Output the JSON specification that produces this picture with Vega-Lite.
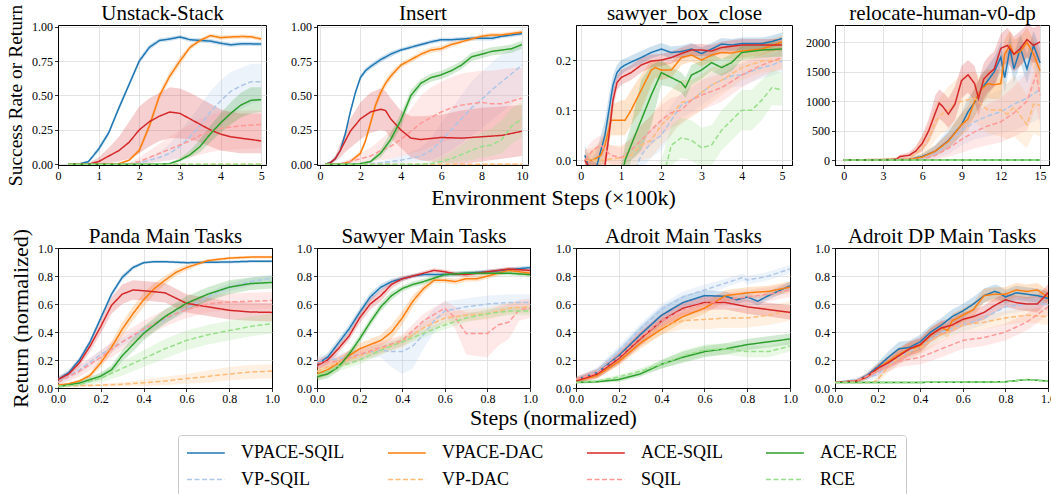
{
"$schema": "https://vega.github.io/schema/vega-lite/v6.json",
"autosize": {"type": "pad"},
"padding": {"left": 4, "top": 1, "right": 0, "bottom": 70},
"background": "white",
"bounds": "flush",
"align": "all",
"columns": 4,
"spacing": {"row": 83, "column": 43},
"datasets": {
"unstack": [
{"s":"VPACE-SQIL","x":0.25,"y":0,"l":0,"h":0},{"s":"VPACE-SQIL","x":0.5,"y":0,"l":0,"h":0.005},{"s":"VPACE-SQIL","x":0.75,"y":0.02,"l":0.01,"h":0.03},{"s":"VPACE-SQIL","x":1.0,"y":0.11,"l":0.09,"h":0.13},{"s":"VPACE-SQIL","x":1.25,"y":0.23,"l":0.21,"h":0.25},{"s":"VPACE-SQIL","x":1.5,"y":0.41,"l":0.39,"h":0.43},{"s":"VPACE-SQIL","x":1.75,"y":0.58,"l":0.56,"h":0.6},{"s":"VPACE-SQIL","x":2.0,"y":0.75,"l":0.73,"h":0.77},{"s":"VPACE-SQIL","x":2.25,"y":0.85,"l":0.83,"h":0.87},{"s":"VPACE-SQIL","x":2.5,"y":0.9,"l":0.885,"h":0.915},{"s":"VPACE-SQIL","x":2.75,"y":0.91,"l":0.895,"h":0.925},{"s":"VPACE-SQIL","x":3.0,"y":0.925,"l":0.91,"h":0.94},{"s":"VPACE-SQIL","x":3.25,"y":0.905,"l":0.89,"h":0.92},{"s":"VPACE-SQIL","x":3.5,"y":0.9,"l":0.885,"h":0.915},{"s":"VPACE-SQIL","x":3.75,"y":0.895,"l":0.88,"h":0.91},{"s":"VPACE-SQIL","x":4.0,"y":0.88,"l":0.865,"h":0.895},{"s":"VPACE-SQIL","x":4.25,"y":0.868,"l":0.853,"h":0.883},{"s":"VPACE-SQIL","x":4.5,"y":0.875,"l":0.86,"h":0.89},{"s":"VPACE-SQIL","x":4.75,"y":0.875,"l":0.86,"h":0.89},{"s":"VPACE-SQIL","x":5.0,"y":0.873,"l":0.858,"h":0.888},
{"s":"VP-SQIL","x":0.25,"y":0,"l":0,"h":0},{"s":"VP-SQIL","x":1.75,"y":0,"l":0,"h":0.005},{"s":"VP-SQIL","x":2.0,"y":0.01,"l":0,"h":0.02},{"s":"VP-SQIL","x":2.25,"y":0.03,"l":0.01,"h":0.05},{"s":"VP-SQIL","x":2.5,"y":0.05,"l":0.02,"h":0.09},{"s":"VP-SQIL","x":2.75,"y":0.08,"l":0.03,"h":0.15},{"s":"VP-SQIL","x":3.0,"y":0.13,"l":0.05,"h":0.24},{"s":"VP-SQIL","x":3.25,"y":0.2,"l":0.09,"h":0.33},{"s":"VP-SQIL","x":3.5,"y":0.28,"l":0.14,"h":0.43},{"s":"VP-SQIL","x":3.75,"y":0.38,"l":0.21,"h":0.53},{"s":"VP-SQIL","x":4.0,"y":0.46,"l":0.28,"h":0.61},{"s":"VP-SQIL","x":4.25,"y":0.53,"l":0.35,"h":0.67},{"s":"VP-SQIL","x":4.5,"y":0.57,"l":0.4,"h":0.7},{"s":"VP-SQIL","x":4.75,"y":0.6,"l":0.44,"h":0.73},{"s":"VP-SQIL","x":5.0,"y":0.6,"l":0.46,"h":0.73},
{"s":"VPACE-DAC","x":0.25,"y":0,"l":0,"h":0},{"s":"VPACE-DAC","x":1.5,"y":0.005,"l":0,"h":0.01},{"s":"VPACE-DAC","x":1.75,"y":0.03,"l":0.02,"h":0.04},{"s":"VPACE-DAC","x":2.0,"y":0.1,"l":0.08,"h":0.12},{"s":"VPACE-DAC","x":2.25,"y":0.28,"l":0.25,"h":0.31},{"s":"VPACE-DAC","x":2.5,"y":0.5,"l":0.47,"h":0.53},{"s":"VPACE-DAC","x":2.75,"y":0.64,"l":0.61,"h":0.67},{"s":"VPACE-DAC","x":3.0,"y":0.75,"l":0.72,"h":0.78},{"s":"VPACE-DAC","x":3.25,"y":0.85,"l":0.83,"h":0.87},{"s":"VPACE-DAC","x":3.5,"y":0.9,"l":0.885,"h":0.915},{"s":"VPACE-DAC","x":3.75,"y":0.935,"l":0.92,"h":0.95},{"s":"VPACE-DAC","x":4.0,"y":0.92,"l":0.905,"h":0.935},{"s":"VPACE-DAC","x":4.25,"y":0.925,"l":0.91,"h":0.94},{"s":"VPACE-DAC","x":4.5,"y":0.928,"l":0.913,"h":0.943},{"s":"VPACE-DAC","x":4.75,"y":0.927,"l":0.912,"h":0.942},{"s":"VPACE-DAC","x":5.0,"y":0.91,"l":0.895,"h":0.925},
{"s":"VP-DAC","x":0.25,"y":0,"l":0,"h":0.003},{"s":"VP-DAC","x":2.5,"y":0,"l":0,"h":0.003},{"s":"VP-DAC","x":5.0,"y":0,"l":0,"h":0.003},
{"s":"ACE-SQIL","x":0.25,"y":0,"l":0,"h":0},{"s":"ACE-SQIL","x":0.75,"y":0,"l":0,"h":0.01},{"s":"ACE-SQIL","x":1.0,"y":0.02,"l":0,"h":0.05},{"s":"ACE-SQIL","x":1.25,"y":0.06,"l":0.01,"h":0.12},{"s":"ACE-SQIL","x":1.5,"y":0.1,"l":0.02,"h":0.2},{"s":"ACE-SQIL","x":1.75,"y":0.16,"l":0.04,"h":0.31},{"s":"ACE-SQIL","x":2.0,"y":0.25,"l":0.08,"h":0.42},{"s":"ACE-SQIL","x":2.25,"y":0.31,"l":0.13,"h":0.48},{"s":"ACE-SQIL","x":2.5,"y":0.35,"l":0.17,"h":0.52},{"s":"ACE-SQIL","x":2.75,"y":0.38,"l":0.19,"h":0.56},{"s":"ACE-SQIL","x":3.0,"y":0.37,"l":0.19,"h":0.55},{"s":"ACE-SQIL","x":3.25,"y":0.33,"l":0.18,"h":0.52},{"s":"ACE-SQIL","x":3.5,"y":0.29,"l":0.16,"h":0.48},{"s":"ACE-SQIL","x":3.75,"y":0.25,"l":0.13,"h":0.44},{"s":"ACE-SQIL","x":4.0,"y":0.22,"l":0.1,"h":0.4},{"s":"ACE-SQIL","x":4.25,"y":0.2,"l":0.09,"h":0.38},{"s":"ACE-SQIL","x":4.5,"y":0.19,"l":0.08,"h":0.37},{"s":"ACE-SQIL","x":4.75,"y":0.18,"l":0.08,"h":0.37},{"s":"ACE-SQIL","x":5.0,"y":0.17,"l":0.08,"h":0.37},
{"s":"SQIL","x":0.25,"y":0,"l":0,"h":0},{"s":"SQIL","x":1.75,"y":0,"l":0,"h":0.01},{"s":"SQIL","x":2.0,"y":0.02,"l":0,"h":0.05},{"s":"SQIL","x":2.25,"y":0.05,"l":0.01,"h":0.1},{"s":"SQIL","x":2.5,"y":0.08,"l":0.02,"h":0.15},{"s":"SQIL","x":2.75,"y":0.11,"l":0.03,"h":0.2},{"s":"SQIL","x":3.0,"y":0.14,"l":0.04,"h":0.25},{"s":"SQIL","x":3.25,"y":0.17,"l":0.05,"h":0.29},{"s":"SQIL","x":3.5,"y":0.21,"l":0.07,"h":0.33},{"s":"SQIL","x":3.75,"y":0.24,"l":0.09,"h":0.36},{"s":"SQIL","x":4.0,"y":0.26,"l":0.1,"h":0.38},{"s":"SQIL","x":4.5,"y":0.28,"l":0.11,"h":0.39},{"s":"SQIL","x":5.0,"y":0.29,"l":0.12,"h":0.39},
{"s":"ACE-RCE","x":0.25,"y":0,"l":0,"h":0},{"s":"ACE-RCE","x":2.5,"y":0,"l":0,"h":0.005},{"s":"ACE-RCE","x":2.75,"y":0.005,"l":0,"h":0.01},{"s":"ACE-RCE","x":3.0,"y":0.03,"l":0.02,"h":0.045},{"s":"ACE-RCE","x":3.25,"y":0.07,"l":0.05,"h":0.1},{"s":"ACE-RCE","x":3.5,"y":0.13,"l":0.09,"h":0.18},{"s":"ACE-RCE","x":3.75,"y":0.22,"l":0.16,"h":0.28},{"s":"ACE-RCE","x":4.0,"y":0.3,"l":0.23,"h":0.37},{"s":"ACE-RCE","x":4.25,"y":0.37,"l":0.29,"h":0.45},{"s":"ACE-RCE","x":4.5,"y":0.43,"l":0.34,"h":0.52},{"s":"ACE-RCE","x":4.75,"y":0.465,"l":0.37,"h":0.56},{"s":"ACE-RCE","x":5.0,"y":0.47,"l":0.38,"h":0.56},
{"s":"RCE","x":0.25,"y":0,"l":0,"h":0.003},{"s":"RCE","x":2.5,"y":0,"l":0,"h":0.003},{"s":"RCE","x":5.0,"y":0,"l":0,"h":0.003}
],
"insert": [
{"s":"VPACE-SQIL","x":0.25,"y":0,"l":0,"h":0.005},{"s":"VPACE-SQIL","x":0.5,"y":0.01,"l":0,"h":0.02},{"s":"VPACE-SQIL","x":0.75,"y":0.04,"l":0.03,"h":0.05},{"s":"VPACE-SQIL","x":1.0,"y":0.1,"l":0.09,"h":0.11},{"s":"VPACE-SQIL","x":1.25,"y":0.22,"l":0.2,"h":0.24},{"s":"VPACE-SQIL","x":1.5,"y":0.38,"l":0.36,"h":0.4},{"s":"VPACE-SQIL","x":1.75,"y":0.52,"l":0.5,"h":0.54},{"s":"VPACE-SQIL","x":2.0,"y":0.63,"l":0.61,"h":0.65},{"s":"VPACE-SQIL","x":2.25,"y":0.68,"l":0.66,"h":0.7},{"s":"VPACE-SQIL","x":2.5,"y":0.71,"l":0.69,"h":0.73},{"s":"VPACE-SQIL","x":3.0,"y":0.76,"l":0.74,"h":0.78},{"s":"VPACE-SQIL","x":3.5,"y":0.8,"l":0.78,"h":0.82},{"s":"VPACE-SQIL","x":4.0,"y":0.83,"l":0.815,"h":0.845},{"s":"VPACE-SQIL","x":4.5,"y":0.85,"l":0.835,"h":0.865},{"s":"VPACE-SQIL","x":5.0,"y":0.87,"l":0.855,"h":0.885},{"s":"VPACE-SQIL","x":5.5,"y":0.89,"l":0.875,"h":0.905},{"s":"VPACE-SQIL","x":6.0,"y":0.905,"l":0.89,"h":0.92},{"s":"VPACE-SQIL","x":6.5,"y":0.905,"l":0.89,"h":0.92},{"s":"VPACE-SQIL","x":7.0,"y":0.91,"l":0.895,"h":0.925},{"s":"VPACE-SQIL","x":7.5,"y":0.915,"l":0.9,"h":0.93},{"s":"VPACE-SQIL","x":8.0,"y":0.915,"l":0.9,"h":0.93},{"s":"VPACE-SQIL","x":8.5,"y":0.915,"l":0.9,"h":0.93},{"s":"VPACE-SQIL","x":9.0,"y":0.93,"l":0.915,"h":0.945},{"s":"VPACE-SQIL","x":9.5,"y":0.94,"l":0.925,"h":0.955},{"s":"VPACE-SQIL","x":10.0,"y":0.95,"l":0.935,"h":0.965},
{"s":"VP-SQIL","x":0.25,"y":0,"l":0,"h":0},{"s":"VP-SQIL","x":2.0,"y":0,"l":0,"h":0.005},{"s":"VP-SQIL","x":3.0,"y":0.01,"l":0,"h":0.02},{"s":"VP-SQIL","x":4.0,"y":0.03,"l":0.01,"h":0.06},{"s":"VP-SQIL","x":5.0,"y":0.06,"l":0.02,"h":0.12},{"s":"VP-SQIL","x":5.5,"y":0.1,"l":0.03,"h":0.19},{"s":"VP-SQIL","x":6.0,"y":0.17,"l":0.06,"h":0.3},{"s":"VP-SQIL","x":6.5,"y":0.25,"l":0.1,"h":0.4},{"s":"VP-SQIL","x":7.0,"y":0.33,"l":0.15,"h":0.5},{"s":"VP-SQIL","x":7.5,"y":0.41,"l":0.21,"h":0.6},{"s":"VP-SQIL","x":8.0,"y":0.47,"l":0.26,"h":0.67},{"s":"VP-SQIL","x":8.5,"y":0.54,"l":0.32,"h":0.74},{"s":"VP-SQIL","x":9.0,"y":0.6,"l":0.38,"h":0.8},{"s":"VP-SQIL","x":9.5,"y":0.66,"l":0.44,"h":0.84},{"s":"VP-SQIL","x":10.0,"y":0.72,"l":0.5,"h":0.87},
{"s":"VPACE-DAC","x":0.25,"y":0,"l":0,"h":0},{"s":"VPACE-DAC","x":1.0,"y":0,"l":0,"h":0.005},{"s":"VPACE-DAC","x":1.5,"y":0.02,"l":0.01,"h":0.03},{"s":"VPACE-DAC","x":2.0,"y":0.08,"l":0.06,"h":0.1},{"s":"VPACE-DAC","x":2.25,"y":0.17,"l":0.15,"h":0.19},{"s":"VPACE-DAC","x":2.5,"y":0.3,"l":0.27,"h":0.33},{"s":"VPACE-DAC","x":2.75,"y":0.43,"l":0.4,"h":0.46},{"s":"VPACE-DAC","x":3.0,"y":0.52,"l":0.49,"h":0.55},{"s":"VPACE-DAC","x":3.25,"y":0.59,"l":0.56,"h":0.62},{"s":"VPACE-DAC","x":3.5,"y":0.64,"l":0.61,"h":0.67},{"s":"VPACE-DAC","x":4.0,"y":0.72,"l":0.7,"h":0.74},{"s":"VPACE-DAC","x":4.5,"y":0.76,"l":0.74,"h":0.78},{"s":"VPACE-DAC","x":5.0,"y":0.8,"l":0.78,"h":0.82},{"s":"VPACE-DAC","x":5.5,"y":0.83,"l":0.81,"h":0.85},{"s":"VPACE-DAC","x":6.0,"y":0.84,"l":0.82,"h":0.86},{"s":"VPACE-DAC","x":6.5,"y":0.87,"l":0.85,"h":0.89},{"s":"VPACE-DAC","x":7.0,"y":0.89,"l":0.875,"h":0.905},{"s":"VPACE-DAC","x":7.5,"y":0.91,"l":0.895,"h":0.925},{"s":"VPACE-DAC","x":8.0,"y":0.93,"l":0.915,"h":0.945},{"s":"VPACE-DAC","x":8.5,"y":0.94,"l":0.925,"h":0.955},{"s":"VPACE-DAC","x":9.0,"y":0.94,"l":0.925,"h":0.955},{"s":"VPACE-DAC","x":9.5,"y":0.95,"l":0.935,"h":0.965},{"s":"VPACE-DAC","x":10.0,"y":0.96,"l":0.945,"h":0.975},
{"s":"VP-DAC","x":0.25,"y":0,"l":0,"h":0.004},{"s":"VP-DAC","x":5.0,"y":0,"l":0,"h":0.004},{"s":"VP-DAC","x":10.0,"y":0,"l":0,"h":0.004},
{"s":"ACE-SQIL","x":0.25,"y":0,"l":0,"h":0.005},{"s":"ACE-SQIL","x":0.5,"y":0.01,"l":0,"h":0.02},{"s":"ACE-SQIL","x":0.75,"y":0.04,"l":0.02,"h":0.06},{"s":"ACE-SQIL","x":1.0,"y":0.1,"l":0.05,"h":0.15},{"s":"ACE-SQIL","x":1.25,"y":0.17,"l":0.09,"h":0.24},{"s":"ACE-SQIL","x":1.5,"y":0.24,"l":0.12,"h":0.33},{"s":"ACE-SQIL","x":2.0,"y":0.33,"l":0.18,"h":0.45},{"s":"ACE-SQIL","x":2.5,"y":0.38,"l":0.23,"h":0.52},{"s":"ACE-SQIL","x":3.0,"y":0.4,"l":0.25,"h":0.55},{"s":"ACE-SQIL","x":3.25,"y":0.39,"l":0.24,"h":0.53},{"s":"ACE-SQIL","x":3.5,"y":0.33,"l":0.19,"h":0.48},{"s":"ACE-SQIL","x":4.0,"y":0.25,"l":0.12,"h":0.39},{"s":"ACE-SQIL","x":4.5,"y":0.19,"l":0.05,"h":0.35},{"s":"ACE-SQIL","x":5.0,"y":0.18,"l":0.03,"h":0.35},{"s":"ACE-SQIL","x":6.0,"y":0.195,"l":0.01,"h":0.36},{"s":"ACE-SQIL","x":7.0,"y":0.19,"l":0,"h":0.39},{"s":"ACE-SQIL","x":8.0,"y":0.2,"l":0.02,"h":0.41},{"s":"ACE-SQIL","x":9.0,"y":0.21,"l":0.04,"h":0.42},{"s":"ACE-SQIL","x":10.0,"y":0.24,"l":0.06,"h":0.43},
{"s":"SQIL","x":0.25,"y":0,"l":0,"h":0},{"s":"SQIL","x":1.0,"y":0.005,"l":0,"h":0.01},{"s":"SQIL","x":1.5,"y":0.02,"l":0,"h":0.04},{"s":"SQIL","x":2.0,"y":0.04,"l":0.01,"h":0.08},{"s":"SQIL","x":2.5,"y":0.06,"l":0.02,"h":0.12},{"s":"SQIL","x":3.0,"y":0.1,"l":0.03,"h":0.18},{"s":"SQIL","x":3.5,"y":0.13,"l":0.04,"h":0.24},{"s":"SQIL","x":4.0,"y":0.18,"l":0.06,"h":0.31},{"s":"SQIL","x":4.5,"y":0.24,"l":0.08,"h":0.4},{"s":"SQIL","x":5.0,"y":0.3,"l":0.1,"h":0.5},{"s":"SQIL","x":5.5,"y":0.34,"l":0.13,"h":0.56},{"s":"SQIL","x":6.0,"y":0.38,"l":0.16,"h":0.6},{"s":"SQIL","x":6.5,"y":0.41,"l":0.18,"h":0.63},{"s":"SQIL","x":7.0,"y":0.43,"l":0.2,"h":0.66},{"s":"SQIL","x":7.5,"y":0.44,"l":0.21,"h":0.67},{"s":"SQIL","x":8.0,"y":0.45,"l":0.22,"h":0.68},{"s":"SQIL","x":8.5,"y":0.44,"l":0.21,"h":0.68},{"s":"SQIL","x":9.0,"y":0.44,"l":0.22,"h":0.69},{"s":"SQIL","x":9.5,"y":0.46,"l":0.24,"h":0.7},{"s":"SQIL","x":10.0,"y":0.48,"l":0.26,"h":0.7},
{"s":"ACE-RCE","x":0.25,"y":0,"l":0,"h":0},{"s":"ACE-RCE","x":1.5,"y":0,"l":0,"h":0.005},{"s":"ACE-RCE","x":2.0,"y":0.005,"l":0,"h":0.01},{"s":"ACE-RCE","x":2.5,"y":0.02,"l":0.01,"h":0.03},{"s":"ACE-RCE","x":3.0,"y":0.08,"l":0.05,"h":0.11},{"s":"ACE-RCE","x":3.5,"y":0.18,"l":0.14,"h":0.23},{"s":"ACE-RCE","x":4.0,"y":0.32,"l":0.27,"h":0.37},{"s":"ACE-RCE","x":4.5,"y":0.5,"l":0.46,"h":0.54},{"s":"ACE-RCE","x":5.0,"y":0.59,"l":0.56,"h":0.62},{"s":"ACE-RCE","x":5.5,"y":0.63,"l":0.6,"h":0.66},{"s":"ACE-RCE","x":6.0,"y":0.65,"l":0.62,"h":0.68},{"s":"ACE-RCE","x":6.5,"y":0.68,"l":0.65,"h":0.71},{"s":"ACE-RCE","x":7.0,"y":0.72,"l":0.69,"h":0.75},{"s":"ACE-RCE","x":7.5,"y":0.78,"l":0.75,"h":0.81},{"s":"ACE-RCE","x":8.0,"y":0.8,"l":0.77,"h":0.83},{"s":"ACE-RCE","x":8.5,"y":0.82,"l":0.79,"h":0.85},{"s":"ACE-RCE","x":9.0,"y":0.83,"l":0.8,"h":0.86},{"s":"ACE-RCE","x":9.5,"y":0.84,"l":0.81,"h":0.87},{"s":"ACE-RCE","x":10.0,"y":0.87,"l":0.84,"h":0.9},
{"s":"RCE","x":0.25,"y":0,"l":0,"h":0},{"s":"RCE","x":5.0,"y":0,"l":0,"h":0.005},{"s":"RCE","x":5.5,"y":0.005,"l":0,"h":0.02},{"s":"RCE","x":6.0,"y":0.02,"l":0,"h":0.05},{"s":"RCE","x":6.5,"y":0.04,"l":0.01,"h":0.09},{"s":"RCE","x":7.0,"y":0.07,"l":0.02,"h":0.14},{"s":"RCE","x":7.5,"y":0.1,"l":0.03,"h":0.19},{"s":"RCE","x":8.0,"y":0.13,"l":0.05,"h":0.23},{"s":"RCE","x":8.5,"y":0.14,"l":0.06,"h":0.26},{"s":"RCE","x":9.0,"y":0.18,"l":0.08,"h":0.32},{"s":"RCE","x":9.5,"y":0.28,"l":0.15,"h":0.41},{"s":"RCE","x":10.0,"y":0.33,"l":0.2,"h":0.45}
],
"box": [
{"s":"VPACE-SQIL","x":0.1,"y":0.01,"l":-0.01,"h":0.03},{"s":"VPACE-SQIL","x":0.25,"y":-0.03,"l":-0.05,"h":0.0},{"s":"VPACE-SQIL","x":0.4,"y":-0.01,"l":-0.04,"h":0.02},{"s":"VPACE-SQIL","x":0.5,"y":0.02,"l":-0.01,"h":0.05},{"s":"VPACE-SQIL","x":0.6,"y":0.05,"l":0.02,"h":0.08},{"s":"VPACE-SQIL","x":0.7,"y":0.1,"l":0.07,"h":0.13},{"s":"VPACE-SQIL","x":0.8,"y":0.15,"l":0.13,"h":0.17},{"s":"VPACE-SQIL","x":0.9,"y":0.175,"l":0.16,"h":0.19},{"s":"VPACE-SQIL","x":1.0,"y":0.185,"l":0.17,"h":0.2},{"s":"VPACE-SQIL","x":1.1,"y":0.19,"l":0.177,"h":0.203},{"s":"VPACE-SQIL","x":1.25,"y":0.196,"l":0.183,"h":0.209},{"s":"VPACE-SQIL","x":1.5,"y":0.205,"l":0.192,"h":0.218},{"s":"VPACE-SQIL","x":1.75,"y":0.215,"l":0.203,"h":0.227},{"s":"VPACE-SQIL","x":2.0,"y":0.222,"l":0.21,"h":0.234},{"s":"VPACE-SQIL","x":2.25,"y":0.215,"l":0.203,"h":0.227},{"s":"VPACE-SQIL","x":2.5,"y":0.217,"l":0.205,"h":0.229},{"s":"VPACE-SQIL","x":2.75,"y":0.222,"l":0.21,"h":0.234},{"s":"VPACE-SQIL","x":3.0,"y":0.213,"l":0.201,"h":0.225},{"s":"VPACE-SQIL","x":3.25,"y":0.222,"l":0.21,"h":0.234},{"s":"VPACE-SQIL","x":3.5,"y":0.232,"l":0.22,"h":0.244},{"s":"VPACE-SQIL","x":3.75,"y":0.23,"l":0.218,"h":0.242},{"s":"VPACE-SQIL","x":4.0,"y":0.233,"l":0.221,"h":0.245},{"s":"VPACE-SQIL","x":4.5,"y":0.233,"l":0.221,"h":0.245},{"s":"VPACE-SQIL","x":4.75,"y":0.237,"l":0.225,"h":0.249},{"s":"VPACE-SQIL","x":5.0,"y":0.243,"l":0.231,"h":0.255},
{"s":"VP-SQIL","x":0.1,"y":-0.1,"l":-0.13,"h":-0.07},{"s":"VP-SQIL","x":1.0,"y":-0.06,"l":-0.09,"h":-0.03},{"s":"VP-SQIL","x":1.4,"y":-0.01,"l":-0.04,"h":0.02},{"s":"VP-SQIL","x":1.5,"y":0.01,"l":-0.02,"h":0.04},{"s":"VP-SQIL","x":1.75,"y":0.035,"l":0.005,"h":0.065},{"s":"VP-SQIL","x":2.0,"y":0.05,"l":0.02,"h":0.08},{"s":"VP-SQIL","x":2.25,"y":0.08,"l":0.05,"h":0.11},{"s":"VP-SQIL","x":2.5,"y":0.11,"l":0.085,"h":0.135},{"s":"VP-SQIL","x":2.75,"y":0.12,"l":0.095,"h":0.145},{"s":"VP-SQIL","x":3.0,"y":0.135,"l":0.11,"h":0.16},{"s":"VP-SQIL","x":3.25,"y":0.15,"l":0.125,"h":0.175},{"s":"VP-SQIL","x":3.5,"y":0.16,"l":0.137,"h":0.183},{"s":"VP-SQIL","x":3.75,"y":0.168,"l":0.145,"h":0.191},{"s":"VP-SQIL","x":4.0,"y":0.17,"l":0.148,"h":0.192},{"s":"VP-SQIL","x":4.25,"y":0.178,"l":0.156,"h":0.2},{"s":"VP-SQIL","x":4.5,"y":0.185,"l":0.163,"h":0.207},{"s":"VP-SQIL","x":4.75,"y":0.19,"l":0.168,"h":0.212},{"s":"VP-SQIL","x":5.0,"y":0.198,"l":0.176,"h":0.22},
{"s":"VPACE-DAC","x":0.1,"y":0,"l":-0.01,"h":0.01},{"s":"VPACE-DAC","x":0.3,"y":0,"l":-0.01,"h":0.02},{"s":"VPACE-DAC","x":0.5,"y":0.01,"l":-0.01,"h":0.04},{"s":"VPACE-DAC","x":0.6,"y":0.03,"l":0,"h":0.06},{"s":"VPACE-DAC","x":0.75,"y":0.08,"l":0.05,"h":0.11},{"s":"VPACE-DAC","x":1.0,"y":0.08,"l":0.05,"h":0.12},{"s":"VPACE-DAC","x":1.1,"y":0.08,"l":0.05,"h":0.12},{"s":"VPACE-DAC","x":1.25,"y":0.1,"l":0.07,"h":0.14},{"s":"VPACE-DAC","x":1.5,"y":0.14,"l":0.1,"h":0.17},{"s":"VPACE-DAC","x":1.75,"y":0.18,"l":0.15,"h":0.2},{"s":"VPACE-DAC","x":1.85,"y":0.185,"l":0.165,"h":0.2},{"s":"VPACE-DAC","x":2.0,"y":0.18,"l":0.16,"h":0.195},{"s":"VPACE-DAC","x":2.25,"y":0.18,"l":0.165,"h":0.195},{"s":"VPACE-DAC","x":2.5,"y":0.205,"l":0.19,"h":0.22},{"s":"VPACE-DAC","x":2.75,"y":0.21,"l":0.197,"h":0.223},{"s":"VPACE-DAC","x":3.0,"y":0.2,"l":0.187,"h":0.213},{"s":"VPACE-DAC","x":3.25,"y":0.21,"l":0.197,"h":0.223},{"s":"VPACE-DAC","x":3.5,"y":0.215,"l":0.202,"h":0.228},{"s":"VPACE-DAC","x":3.75,"y":0.214,"l":0.201,"h":0.227},{"s":"VPACE-DAC","x":4.0,"y":0.218,"l":0.205,"h":0.231},{"s":"VPACE-DAC","x":4.5,"y":0.222,"l":0.209,"h":0.235},{"s":"VPACE-DAC","x":5.0,"y":0.236,"l":0.223,"h":0.249},
{"s":"VP-DAC","x":0.1,"y":0,"l":-0.02,"h":0.02},{"s":"VP-DAC","x":0.5,"y":0,"l":-0.02,"h":0.03},{"s":"VP-DAC","x":1.0,"y":0.005,"l":-0.02,"h":0.03},{"s":"VP-DAC","x":1.25,"y":0.01,"l":-0.015,"h":0.04},{"s":"VP-DAC","x":1.5,"y":0.03,"l":0,"h":0.07},{"s":"VP-DAC","x":1.75,"y":0.04,"l":0.005,"h":0.09},{"s":"VP-DAC","x":2.0,"y":0.07,"l":0.03,"h":0.12},{"s":"VP-DAC","x":2.25,"y":0.09,"l":0.05,"h":0.14},{"s":"VP-DAC","x":2.5,"y":0.115,"l":0.075,"h":0.16},{"s":"VP-DAC","x":2.75,"y":0.12,"l":0.085,"h":0.16},{"s":"VP-DAC","x":3.0,"y":0.135,"l":0.1,"h":0.17},{"s":"VP-DAC","x":3.25,"y":0.15,"l":0.115,"h":0.185},{"s":"VP-DAC","x":3.5,"y":0.16,"l":0.13,"h":0.19},{"s":"VP-DAC","x":4.0,"y":0.185,"l":0.16,"h":0.21},{"s":"VP-DAC","x":4.5,"y":0.198,"l":0.175,"h":0.22},{"s":"VP-DAC","x":5.0,"y":0.2,"l":0.18,"h":0.22},
{"s":"ACE-SQIL","x":0.1,"y":0,"l":-0.01,"h":0.01},{"s":"ACE-SQIL","x":0.25,"y":-0.02,"l":-0.04,"h":0},{"s":"ACE-SQIL","x":0.5,"y":-0.03,"l":-0.05,"h":-0.01},{"s":"ACE-SQIL","x":0.6,"y":-0.01,"l":-0.03,"h":0.01},{"s":"ACE-SQIL","x":0.7,"y":0.05,"l":0.03,"h":0.07},{"s":"ACE-SQIL","x":0.8,"y":0.12,"l":0.1,"h":0.14},{"s":"ACE-SQIL","x":0.9,"y":0.155,"l":0.14,"h":0.17},{"s":"ACE-SQIL","x":1.0,"y":0.165,"l":0.15,"h":0.18},{"s":"ACE-SQIL","x":1.25,"y":0.175,"l":0.16,"h":0.19},{"s":"ACE-SQIL","x":1.5,"y":0.19,"l":0.175,"h":0.205},{"s":"ACE-SQIL","x":1.75,"y":0.198,"l":0.185,"h":0.211},{"s":"ACE-SQIL","x":2.0,"y":0.2,"l":0.188,"h":0.212},{"s":"ACE-SQIL","x":2.25,"y":0.205,"l":0.193,"h":0.217},{"s":"ACE-SQIL","x":2.5,"y":0.213,"l":0.201,"h":0.225},{"s":"ACE-SQIL","x":2.75,"y":0.22,"l":0.208,"h":0.232},{"s":"ACE-SQIL","x":3.0,"y":0.22,"l":0.208,"h":0.232},{"s":"ACE-SQIL","x":3.25,"y":0.218,"l":0.206,"h":0.23},{"s":"ACE-SQIL","x":3.5,"y":0.225,"l":0.213,"h":0.237},{"s":"ACE-SQIL","x":4.0,"y":0.23,"l":0.218,"h":0.242},{"s":"ACE-SQIL","x":4.5,"y":0.23,"l":0.218,"h":0.242},{"s":"ACE-SQIL","x":5.0,"y":0.23,"l":0.218,"h":0.242},
{"s":"SQIL","x":0.1,"y":0,"l":-0.02,"h":0.02},{"s":"SQIL","x":0.3,"y":0.02,"l":0,"h":0.04},{"s":"SQIL","x":0.5,"y":0.03,"l":0.01,"h":0.05},{"s":"SQIL","x":0.75,"y":0.01,"l":-0.01,"h":0.03},{"s":"SQIL","x":1.0,"y":0.005,"l":-0.015,"h":0.025},{"s":"SQIL","x":1.25,"y":0.02,"l":0,"h":0.045},{"s":"SQIL","x":1.5,"y":0.04,"l":0.015,"h":0.07},{"s":"SQIL","x":1.75,"y":0.06,"l":0.03,"h":0.09},{"s":"SQIL","x":2.0,"y":0.08,"l":0.05,"h":0.11},{"s":"SQIL","x":2.25,"y":0.095,"l":0.065,"h":0.125},{"s":"SQIL","x":2.5,"y":0.1,"l":0.072,"h":0.13},{"s":"SQIL","x":2.75,"y":0.12,"l":0.09,"h":0.15},{"s":"SQIL","x":3.0,"y":0.13,"l":0.1,"h":0.16},{"s":"SQIL","x":3.5,"y":0.145,"l":0.117,"h":0.173},{"s":"SQIL","x":4.0,"y":0.17,"l":0.145,"h":0.195},{"s":"SQIL","x":4.5,"y":0.19,"l":0.167,"h":0.213},{"s":"SQIL","x":5.0,"y":0.205,"l":0.183,"h":0.227},
{"s":"ACE-RCE","x":0.1,"y":-0.1,"l":-0.13,"h":-0.07},{"s":"ACE-RCE","x":0.5,"y":-0.1,"l":-0.13,"h":-0.07},{"s":"ACE-RCE","x":0.9,"y":-0.06,"l":-0.09,"h":-0.03},{"s":"ACE-RCE","x":1.0,"y":-0.04,"l":-0.07,"h":-0.01},{"s":"ACE-RCE","x":1.1,"y":0,"l":-0.03,"h":0.03},{"s":"ACE-RCE","x":1.25,"y":0.03,"l":0,"h":0.07},{"s":"ACE-RCE","x":1.5,"y":0.08,"l":0.02,"h":0.16},{"s":"ACE-RCE","x":1.75,"y":0.13,"l":0.07,"h":0.19},{"s":"ACE-RCE","x":2.0,"y":0.175,"l":0.15,"h":0.2},{"s":"ACE-RCE","x":2.25,"y":0.165,"l":0.145,"h":0.185},{"s":"ACE-RCE","x":2.5,"y":0.155,"l":0.135,"h":0.175},{"s":"ACE-RCE","x":2.6,"y":0.145,"l":0.125,"h":0.165},{"s":"ACE-RCE","x":2.75,"y":0.17,"l":0.15,"h":0.19},{"s":"ACE-RCE","x":3.0,"y":0.18,"l":0.162,"h":0.198},{"s":"ACE-RCE","x":3.25,"y":0.195,"l":0.178,"h":0.212},{"s":"ACE-RCE","x":3.5,"y":0.185,"l":0.168,"h":0.202},{"s":"ACE-RCE","x":3.75,"y":0.195,"l":0.178,"h":0.212},{"s":"ACE-RCE","x":4.0,"y":0.215,"l":0.2,"h":0.23},{"s":"ACE-RCE","x":4.5,"y":0.22,"l":0.205,"h":0.235},{"s":"ACE-RCE","x":5.0,"y":0.222,"l":0.207,"h":0.237},
{"s":"RCE","x":0.1,"y":-0.2,"l":-0.25,"h":-0.15},{"s":"RCE","x":1.5,"y":-0.15,"l":-0.2,"h":-0.1},{"s":"RCE","x":2.0,"y":-0.05,"l":-0.1,"h":0},{"s":"RCE","x":2.25,"y":0.03,"l":-0.01,"h":0.07},{"s":"RCE","x":2.5,"y":0.045,"l":0.005,"h":0.085},{"s":"RCE","x":2.75,"y":0.04,"l":0,"h":0.08},{"s":"RCE","x":3.0,"y":0.025,"l":-0.015,"h":0.065},{"s":"RCE","x":3.25,"y":0.03,"l":-0.01,"h":0.07},{"s":"RCE","x":3.5,"y":0.06,"l":0.02,"h":0.1},{"s":"RCE","x":3.75,"y":0.08,"l":0.04,"h":0.12},{"s":"RCE","x":4.0,"y":0.1,"l":0.06,"h":0.14},{"s":"RCE","x":4.25,"y":0.1,"l":0.06,"h":0.14},{"s":"RCE","x":4.5,"y":0.12,"l":0.08,"h":0.16},{"s":"RCE","x":4.75,"y":0.145,"l":0.11,"h":0.18},{"s":"RCE","x":5.0,"y":0.14,"l":0.11,"h":0.175}
],
"relocate": [
{"s":"VPACE-SQIL","x":0,"y":0,"l":0,"h":0},{"s":"VPACE-SQIL","x":5,"y":10,"l":0,"h":25},{"s":"VPACE-SQIL","x":6,"y":60,"l":20,"h":110},{"s":"VPACE-SQIL","x":7,"y":150,"l":70,"h":250},{"s":"VPACE-SQIL","x":8,"y":330,"l":200,"h":480},{"s":"VPACE-SQIL","x":9,"y":600,"l":420,"h":800},{"s":"VPACE-SQIL","x":9.5,"y":820,"l":600,"h":1050},{"s":"VPACE-SQIL","x":10,"y":980,"l":750,"h":1200},{"s":"VPACE-SQIL","x":10.5,"y":1200,"l":950,"h":1450},{"s":"VPACE-SQIL","x":11,"y":1350,"l":1100,"h":1600},{"s":"VPACE-SQIL","x":11.5,"y":1500,"l":1250,"h":1750},{"s":"VPACE-SQIL","x":12,"y":1750,"l":1500,"h":2000},{"s":"VPACE-SQIL","x":12.3,"y":1400,"l":1150,"h":1650},{"s":"VPACE-SQIL","x":12.7,"y":1900,"l":1650,"h":2150},{"s":"VPACE-SQIL","x":13,"y":1550,"l":1300,"h":1800},{"s":"VPACE-SQIL","x":13.5,"y":1900,"l":1650,"h":2150},{"s":"VPACE-SQIL","x":14,"y":1550,"l":1300,"h":1800},{"s":"VPACE-SQIL","x":14.5,"y":1950,"l":1700,"h":2200},{"s":"VPACE-SQIL","x":15,"y":1650,"l":1400,"h":1900},
{"s":"VP-SQIL","x":0,"y":0,"l":0,"h":0},{"s":"VP-SQIL","x":6,"y":20,"l":0,"h":60},{"s":"VP-SQIL","x":7,"y":100,"l":20,"h":250},{"s":"VP-SQIL","x":8,"y":300,"l":100,"h":550},{"s":"VP-SQIL","x":9,"y":500,"l":250,"h":800},{"s":"VP-SQIL","x":10,"y":650,"l":350,"h":1000},{"s":"VP-SQIL","x":11,"y":750,"l":400,"h":1100},{"s":"VP-SQIL","x":12,"y":820,"l":450,"h":1200},{"s":"VP-SQIL","x":13,"y":950,"l":500,"h":1400},{"s":"VP-SQIL","x":14,"y":1050,"l":600,"h":1500},{"s":"VP-SQIL","x":15,"y":1200,"l":700,"h":1700},
{"s":"VPACE-DAC","x":0,"y":0,"l":0,"h":0},{"s":"VPACE-DAC","x":5,"y":10,"l":0,"h":25},{"s":"VPACE-DAC","x":6,"y":50,"l":15,"h":100},{"s":"VPACE-DAC","x":7,"y":150,"l":70,"h":250},{"s":"VPACE-DAC","x":8,"y":320,"l":200,"h":460},{"s":"VPACE-DAC","x":9,"y":600,"l":420,"h":800},{"s":"VPACE-DAC","x":9.5,"y":700,"l":500,"h":920},{"s":"VPACE-DAC","x":10,"y":1000,"l":750,"h":1250},{"s":"VPACE-DAC","x":10.5,"y":1200,"l":950,"h":1450},{"s":"VPACE-DAC","x":11,"y":1300,"l":1050,"h":1550},{"s":"VPACE-DAC","x":11.5,"y":1280,"l":1030,"h":1530},{"s":"VPACE-DAC","x":12,"y":1300,"l":1050,"h":1550},{"s":"VPACE-DAC","x":12.3,"y":1800,"l":1550,"h":2050},{"s":"VPACE-DAC","x":12.7,"y":1950,"l":1700,"h":2200},{"s":"VPACE-DAC","x":13,"y":1800,"l":1550,"h":2050},{"s":"VPACE-DAC","x":13.5,"y":1850,"l":1600,"h":2100},{"s":"VPACE-DAC","x":14,"y":2000,"l":1750,"h":2250},{"s":"VPACE-DAC","x":14.5,"y":1800,"l":1550,"h":2050},{"s":"VPACE-DAC","x":15,"y":1520,"l":1250,"h":1800},
{"s":"VP-DAC","x":0,"y":0,"l":0,"h":0},{"s":"VP-DAC","x":5,"y":20,"l":0,"h":60},{"s":"VP-DAC","x":6,"y":200,"l":50,"h":400},{"s":"VP-DAC","x":6.5,"y":350,"l":150,"h":600},{"s":"VP-DAC","x":7,"y":650,"l":350,"h":950},{"s":"VP-DAC","x":7.5,"y":780,"l":450,"h":1100},{"s":"VP-DAC","x":8,"y":850,"l":500,"h":1250},{"s":"VP-DAC","x":8.5,"y":960,"l":580,"h":1350},{"s":"VP-DAC","x":9,"y":1000,"l":600,"h":1450},{"s":"VP-DAC","x":10,"y":1050,"l":650,"h":1500},{"s":"VP-DAC","x":11,"y":850,"l":450,"h":1300},{"s":"VP-DAC","x":12,"y":850,"l":400,"h":1400},{"s":"VP-DAC","x":12.5,"y":780,"l":350,"h":1300},{"s":"VP-DAC","x":13,"y":900,"l":400,"h":1450},{"s":"VP-DAC","x":14,"y":600,"l":200,"h":1100},{"s":"VP-DAC","x":14.5,"y":950,"l":450,"h":1500},{"s":"VP-DAC","x":15,"y":930,"l":400,"h":1500},
{"s":"ACE-SQIL","x":0,"y":0,"l":0,"h":0},{"s":"ACE-SQIL","x":3,"y":0,"l":0,"h":5},{"s":"ACE-SQIL","x":4,"y":10,"l":0,"h":25},{"s":"ACE-SQIL","x":4.3,"y":60,"l":30,"h":90},{"s":"ACE-SQIL","x":5,"y":80,"l":40,"h":130},{"s":"ACE-SQIL","x":5.5,"y":150,"l":80,"h":230},{"s":"ACE-SQIL","x":6,"y":280,"l":150,"h":420},{"s":"ACE-SQIL","x":6.5,"y":500,"l":300,"h":700},{"s":"ACE-SQIL","x":7,"y":800,"l":550,"h":1100},{"s":"ACE-SQIL","x":7.3,"y":970,"l":700,"h":1200},{"s":"ACE-SQIL","x":7.6,"y":900,"l":650,"h":1150},{"s":"ACE-SQIL","x":8,"y":780,"l":550,"h":1050},{"s":"ACE-SQIL","x":8.5,"y":950,"l":680,"h":1250},{"s":"ACE-SQIL","x":9,"y":1350,"l":1050,"h":1600},{"s":"ACE-SQIL","x":9.5,"y":1450,"l":1150,"h":1700},{"s":"ACE-SQIL","x":10,"y":1300,"l":1000,"h":1600},{"s":"ACE-SQIL","x":10.3,"y":1050,"l":750,"h":1350},{"s":"ACE-SQIL","x":10.7,"y":1380,"l":1050,"h":1650},{"s":"ACE-SQIL","x":11,"y":1450,"l":1150,"h":1750},{"s":"ACE-SQIL","x":11.5,"y":1550,"l":1250,"h":1850},{"s":"ACE-SQIL","x":12,"y":1900,"l":1600,"h":2150},{"s":"ACE-SQIL","x":12.5,"y":1950,"l":1650,"h":2250},{"s":"ACE-SQIL","x":13,"y":1800,"l":1500,"h":2100},{"s":"ACE-SQIL","x":13.5,"y":1900,"l":1600,"h":2200},{"s":"ACE-SQIL","x":14,"y":2050,"l":1750,"h":2300},{"s":"ACE-SQIL","x":14.5,"y":1950,"l":1650,"h":2250},{"s":"ACE-SQIL","x":15,"y":2010,"l":1700,"h":2300},
{"s":"SQIL","x":0,"y":0,"l":0,"h":0},{"s":"SQIL","x":6,"y":10,"l":0,"h":40},{"s":"SQIL","x":7,"y":80,"l":10,"h":200},{"s":"SQIL","x":8,"y":200,"l":50,"h":400},{"s":"SQIL","x":9,"y":350,"l":120,"h":600},{"s":"SQIL","x":10,"y":480,"l":200,"h":800},{"s":"SQIL","x":11,"y":580,"l":250,"h":950},{"s":"SQIL","x":12,"y":650,"l":300,"h":1050},{"s":"SQIL","x":13,"y":800,"l":400,"h":1250},{"s":"SQIL","x":14,"y":1000,"l":500,"h":1500},{"s":"SQIL","x":14.7,"y":1450,"l":900,"h":2000},{"s":"SQIL","x":15,"y":1100,"l":600,"h":1600},
{"s":"ACE-RCE","x":0,"y":0,"l":-8,"h":8},{"s":"ACE-RCE","x":7.5,"y":0,"l":-8,"h":8},{"s":"ACE-RCE","x":15,"y":0,"l":-8,"h":8},
{"s":"RCE","x":0,"y":0,"l":-8,"h":8},{"s":"RCE","x":7.5,"y":0,"l":-8,"h":8},{"s":"RCE","x":15,"y":0,"l":-8,"h":8}
],
"panda": [
{"s":"VPACE-SQIL","x":0,"y":0.06,"l":0.04,"h":0.08},{"s":"VPACE-SQIL","x":0.05,"y":0.11,"l":0.09,"h":0.13},{"s":"VPACE-SQIL","x":0.1,"y":0.2,"l":0.18,"h":0.22},{"s":"VPACE-SQIL","x":0.15,"y":0.33,"l":0.31,"h":0.35},{"s":"VPACE-SQIL","x":0.2,"y":0.5,"l":0.48,"h":0.52},{"s":"VPACE-SQIL","x":0.25,"y":0.67,"l":0.65,"h":0.69},{"s":"VPACE-SQIL","x":0.3,"y":0.79,"l":0.77,"h":0.81},{"s":"VPACE-SQIL","x":0.35,"y":0.86,"l":0.845,"h":0.875},{"s":"VPACE-SQIL","x":0.4,"y":0.895,"l":0.885,"h":0.905},{"s":"VPACE-SQIL","x":0.45,"y":0.902,"l":0.892,"h":0.912},{"s":"VPACE-SQIL","x":0.5,"y":0.902,"l":0.892,"h":0.912},{"s":"VPACE-SQIL","x":0.6,"y":0.895,"l":0.885,"h":0.905},{"s":"VPACE-SQIL","x":0.7,"y":0.898,"l":0.888,"h":0.908},{"s":"VPACE-SQIL","x":0.8,"y":0.9,"l":0.89,"h":0.91},{"s":"VPACE-SQIL","x":0.9,"y":0.905,"l":0.895,"h":0.915},{"s":"VPACE-SQIL","x":1.0,"y":0.905,"l":0.895,"h":0.915},
{"s":"VP-SQIL","x":0,"y":0.04,"l":0.02,"h":0.06},{"s":"VP-SQIL","x":0.1,"y":0.13,"l":0.1,"h":0.16},{"s":"VP-SQIL","x":0.2,"y":0.24,"l":0.21,"h":0.27},{"s":"VP-SQIL","x":0.3,"y":0.33,"l":0.3,"h":0.36},{"s":"VP-SQIL","x":0.4,"y":0.41,"l":0.38,"h":0.44},{"s":"VP-SQIL","x":0.5,"y":0.49,"l":0.46,"h":0.52},{"s":"VP-SQIL","x":0.6,"y":0.57,"l":0.54,"h":0.6},{"s":"VP-SQIL","x":0.7,"y":0.65,"l":0.62,"h":0.68},{"s":"VP-SQIL","x":0.8,"y":0.72,"l":0.69,"h":0.75},{"s":"VP-SQIL","x":0.9,"y":0.76,"l":0.73,"h":0.79},{"s":"VP-SQIL","x":1.0,"y":0.785,"l":0.755,"h":0.815},
{"s":"VPACE-DAC","x":0,"y":0.02,"l":0.01,"h":0.03},{"s":"VPACE-DAC","x":0.05,"y":0.03,"l":0.02,"h":0.04},{"s":"VPACE-DAC","x":0.1,"y":0.05,"l":0.04,"h":0.06},{"s":"VPACE-DAC","x":0.15,"y":0.09,"l":0.07,"h":0.11},{"s":"VPACE-DAC","x":0.2,"y":0.18,"l":0.15,"h":0.21},{"s":"VPACE-DAC","x":0.25,"y":0.29,"l":0.25,"h":0.33},{"s":"VPACE-DAC","x":0.3,"y":0.42,"l":0.37,"h":0.47},{"s":"VPACE-DAC","x":0.35,"y":0.53,"l":0.48,"h":0.58},{"s":"VPACE-DAC","x":0.4,"y":0.63,"l":0.58,"h":0.68},{"s":"VPACE-DAC","x":0.45,"y":0.71,"l":0.67,"h":0.75},{"s":"VPACE-DAC","x":0.5,"y":0.77,"l":0.74,"h":0.8},{"s":"VPACE-DAC","x":0.55,"y":0.825,"l":0.8,"h":0.85},{"s":"VPACE-DAC","x":0.6,"y":0.86,"l":0.84,"h":0.88},{"s":"VPACE-DAC","x":0.7,"y":0.91,"l":0.9,"h":0.92},{"s":"VPACE-DAC","x":0.8,"y":0.928,"l":0.918,"h":0.938},{"s":"VPACE-DAC","x":0.9,"y":0.935,"l":0.925,"h":0.945},{"s":"VPACE-DAC","x":1.0,"y":0.935,"l":0.925,"h":0.945},
{"s":"VP-DAC","x":0,"y":0.015,"l":0.005,"h":0.025},{"s":"VP-DAC","x":0.1,"y":0.017,"l":0.007,"h":0.027},{"s":"VP-DAC","x":0.2,"y":0.02,"l":0.01,"h":0.03},{"s":"VP-DAC","x":0.3,"y":0.027,"l":0.012,"h":0.04},{"s":"VP-DAC","x":0.4,"y":0.037,"l":0.015,"h":0.06},{"s":"VP-DAC","x":0.5,"y":0.05,"l":0.02,"h":0.08},{"s":"VP-DAC","x":0.6,"y":0.067,"l":0.03,"h":0.1},{"s":"VP-DAC","x":0.7,"y":0.083,"l":0.04,"h":0.125},{"s":"VP-DAC","x":0.8,"y":0.1,"l":0.055,"h":0.15},{"s":"VP-DAC","x":0.9,"y":0.115,"l":0.065,"h":0.165},{"s":"VP-DAC","x":1.0,"y":0.12,"l":0.07,"h":0.17},
{"s":"ACE-SQIL","x":0,"y":0.06,"l":0.04,"h":0.08},{"s":"ACE-SQIL","x":0.05,"y":0.1,"l":0.08,"h":0.12},{"s":"ACE-SQIL","x":0.1,"y":0.18,"l":0.15,"h":0.21},{"s":"ACE-SQIL","x":0.15,"y":0.3,"l":0.26,"h":0.34},{"s":"ACE-SQIL","x":0.2,"y":0.44,"l":0.39,"h":0.49},{"s":"ACE-SQIL","x":0.25,"y":0.59,"l":0.53,"h":0.65},{"s":"ACE-SQIL","x":0.3,"y":0.67,"l":0.6,"h":0.74},{"s":"ACE-SQIL","x":0.35,"y":0.7,"l":0.63,"h":0.77},{"s":"ACE-SQIL","x":0.4,"y":0.695,"l":0.625,"h":0.765},{"s":"ACE-SQIL","x":0.5,"y":0.68,"l":0.61,"h":0.75},{"s":"ACE-SQIL","x":0.6,"y":0.605,"l":0.54,"h":0.67},{"s":"ACE-SQIL","x":0.7,"y":0.58,"l":0.515,"h":0.645},{"s":"ACE-SQIL","x":0.8,"y":0.555,"l":0.49,"h":0.62},{"s":"ACE-SQIL","x":0.9,"y":0.543,"l":0.48,"h":0.61},{"s":"ACE-SQIL","x":1.0,"y":0.54,"l":0.475,"h":0.605},
{"s":"SQIL","x":0,"y":0.04,"l":0.02,"h":0.06},{"s":"SQIL","x":0.1,"y":0.12,"l":0.08,"h":0.16},{"s":"SQIL","x":0.2,"y":0.22,"l":0.17,"h":0.27},{"s":"SQIL","x":0.3,"y":0.33,"l":0.27,"h":0.39},{"s":"SQIL","x":0.4,"y":0.42,"l":0.36,"h":0.48},{"s":"SQIL","x":0.5,"y":0.5,"l":0.44,"h":0.56},{"s":"SQIL","x":0.6,"y":0.56,"l":0.5,"h":0.62},{"s":"SQIL","x":0.7,"y":0.6,"l":0.54,"h":0.66},{"s":"SQIL","x":0.8,"y":0.615,"l":0.555,"h":0.675},{"s":"SQIL","x":0.9,"y":0.62,"l":0.56,"h":0.68},{"s":"SQIL","x":1.0,"y":0.625,"l":0.565,"h":0.685},
{"s":"ACE-RCE","x":0,"y":0.01,"l":0,"h":0.02},{"s":"ACE-RCE","x":0.1,"y":0.035,"l":0.02,"h":0.05},{"s":"ACE-RCE","x":0.2,"y":0.085,"l":0.06,"h":0.11},{"s":"ACE-RCE","x":0.25,"y":0.13,"l":0.1,"h":0.16},{"s":"ACE-RCE","x":0.3,"y":0.23,"l":0.19,"h":0.27},{"s":"ACE-RCE","x":0.35,"y":0.31,"l":0.26,"h":0.36},{"s":"ACE-RCE","x":0.4,"y":0.39,"l":0.34,"h":0.44},{"s":"ACE-RCE","x":0.5,"y":0.51,"l":0.46,"h":0.56},{"s":"ACE-RCE","x":0.6,"y":0.605,"l":0.555,"h":0.655},{"s":"ACE-RCE","x":0.7,"y":0.67,"l":0.62,"h":0.72},{"s":"ACE-RCE","x":0.8,"y":0.72,"l":0.67,"h":0.77},{"s":"ACE-RCE","x":0.9,"y":0.746,"l":0.7,"h":0.79},{"s":"ACE-RCE","x":1.0,"y":0.754,"l":0.71,"h":0.8},
{"s":"RCE","x":0,"y":0.01,"l":0,"h":0.02},{"s":"RCE","x":0.1,"y":0.025,"l":0.01,"h":0.04},{"s":"RCE","x":0.2,"y":0.07,"l":0.04,"h":0.1},{"s":"RCE","x":0.3,"y":0.14,"l":0.09,"h":0.19},{"s":"RCE","x":0.4,"y":0.21,"l":0.15,"h":0.27},{"s":"RCE","x":0.5,"y":0.28,"l":0.21,"h":0.35},{"s":"RCE","x":0.6,"y":0.34,"l":0.27,"h":0.41},{"s":"RCE","x":0.7,"y":0.38,"l":0.31,"h":0.45},{"s":"RCE","x":0.8,"y":0.41,"l":0.34,"h":0.48},{"s":"RCE","x":0.9,"y":0.44,"l":0.37,"h":0.51},{"s":"RCE","x":1.0,"y":0.46,"l":0.39,"h":0.53}
],
"sawyer": [
{"s":"VPACE-SQIL","x":0,"y":0.17,"l":0.15,"h":0.19},{"s":"VPACE-SQIL","x":0.05,"y":0.22,"l":0.19,"h":0.25},{"s":"VPACE-SQIL","x":0.1,"y":0.32,"l":0.29,"h":0.35},{"s":"VPACE-SQIL","x":0.15,"y":0.42,"l":0.39,"h":0.45},{"s":"VPACE-SQIL","x":0.2,"y":0.54,"l":0.51,"h":0.57},{"s":"VPACE-SQIL","x":0.25,"y":0.65,"l":0.62,"h":0.68},{"s":"VPACE-SQIL","x":0.3,"y":0.72,"l":0.695,"h":0.745},{"s":"VPACE-SQIL","x":0.35,"y":0.76,"l":0.74,"h":0.78},{"s":"VPACE-SQIL","x":0.4,"y":0.78,"l":0.765,"h":0.795},{"s":"VPACE-SQIL","x":0.45,"y":0.8,"l":0.785,"h":0.815},{"s":"VPACE-SQIL","x":0.5,"y":0.81,"l":0.795,"h":0.825},{"s":"VPACE-SQIL","x":0.6,"y":0.81,"l":0.795,"h":0.825},{"s":"VPACE-SQIL","x":0.7,"y":0.82,"l":0.805,"h":0.835},{"s":"VPACE-SQIL","x":0.8,"y":0.83,"l":0.815,"h":0.845},{"s":"VPACE-SQIL","x":0.9,"y":0.845,"l":0.83,"h":0.86},{"s":"VPACE-SQIL","x":1.0,"y":0.86,"l":0.845,"h":0.875},
{"s":"VP-SQIL","x":0,"y":0.19,"l":0.15,"h":0.23},{"s":"VP-SQIL","x":0.1,"y":0.21,"l":0.17,"h":0.25},{"s":"VP-SQIL","x":0.2,"y":0.24,"l":0.2,"h":0.28},{"s":"VP-SQIL","x":0.3,"y":0.27,"l":0.22,"h":0.32},{"s":"VP-SQIL","x":0.35,"y":0.26,"l":0.15,"h":0.33},{"s":"VP-SQIL","x":0.4,"y":0.26,"l":0.1,"h":0.34},{"s":"VP-SQIL","x":0.45,"y":0.3,"l":0.14,"h":0.4},{"s":"VP-SQIL","x":0.5,"y":0.38,"l":0.28,"h":0.48},{"s":"VP-SQIL","x":0.55,"y":0.48,"l":0.4,"h":0.57},{"s":"VP-SQIL","x":0.6,"y":0.55,"l":0.48,"h":0.62},{"s":"VP-SQIL","x":0.7,"y":0.58,"l":0.52,"h":0.64},{"s":"VP-SQIL","x":0.8,"y":0.6,"l":0.54,"h":0.66},{"s":"VP-SQIL","x":0.9,"y":0.61,"l":0.55,"h":0.67},{"s":"VP-SQIL","x":1.0,"y":0.61,"l":0.55,"h":0.67},
{"s":"VPACE-DAC","x":0,"y":0.1,"l":0.06,"h":0.14},{"s":"VPACE-DAC","x":0.05,"y":0.13,"l":0.09,"h":0.17},{"s":"VPACE-DAC","x":0.1,"y":0.18,"l":0.14,"h":0.22},{"s":"VPACE-DAC","x":0.15,"y":0.23,"l":0.19,"h":0.27},{"s":"VPACE-DAC","x":0.2,"y":0.28,"l":0.24,"h":0.32},{"s":"VPACE-DAC","x":0.25,"y":0.31,"l":0.27,"h":0.35},{"s":"VPACE-DAC","x":0.3,"y":0.34,"l":0.3,"h":0.38},{"s":"VPACE-DAC","x":0.35,"y":0.4,"l":0.35,"h":0.45},{"s":"VPACE-DAC","x":0.4,"y":0.5,"l":0.45,"h":0.55},{"s":"VPACE-DAC","x":0.45,"y":0.62,"l":0.58,"h":0.66},{"s":"VPACE-DAC","x":0.5,"y":0.71,"l":0.68,"h":0.74},{"s":"VPACE-DAC","x":0.55,"y":0.77,"l":0.75,"h":0.79},{"s":"VPACE-DAC","x":0.6,"y":0.77,"l":0.75,"h":0.79},{"s":"VPACE-DAC","x":0.65,"y":0.76,"l":0.74,"h":0.78},{"s":"VPACE-DAC","x":0.7,"y":0.78,"l":0.76,"h":0.8},{"s":"VPACE-DAC","x":0.75,"y":0.78,"l":0.76,"h":0.8},{"s":"VPACE-DAC","x":0.8,"y":0.8,"l":0.78,"h":0.82},{"s":"VPACE-DAC","x":0.9,"y":0.84,"l":0.82,"h":0.86},{"s":"VPACE-DAC","x":1.0,"y":0.82,"l":0.8,"h":0.84},
{"s":"VP-DAC","x":0,"y":0.12,"l":0.08,"h":0.16},{"s":"VP-DAC","x":0.1,"y":0.18,"l":0.14,"h":0.22},{"s":"VP-DAC","x":0.2,"y":0.23,"l":0.19,"h":0.27},{"s":"VP-DAC","x":0.3,"y":0.28,"l":0.24,"h":0.32},{"s":"VP-DAC","x":0.4,"y":0.33,"l":0.29,"h":0.37},{"s":"VP-DAC","x":0.5,"y":0.43,"l":0.39,"h":0.47},{"s":"VP-DAC","x":0.6,"y":0.5,"l":0.46,"h":0.54},{"s":"VP-DAC","x":0.7,"y":0.52,"l":0.48,"h":0.56},{"s":"VP-DAC","x":0.8,"y":0.53,"l":0.49,"h":0.57},{"s":"VP-DAC","x":0.9,"y":0.57,"l":0.53,"h":0.61},{"s":"VP-DAC","x":1.0,"y":0.58,"l":0.54,"h":0.62},
{"s":"ACE-SQIL","x":0,"y":0.16,"l":0.13,"h":0.19},{"s":"ACE-SQIL","x":0.05,"y":0.2,"l":0.17,"h":0.23},{"s":"ACE-SQIL","x":0.1,"y":0.28,"l":0.25,"h":0.31},{"s":"ACE-SQIL","x":0.15,"y":0.37,"l":0.34,"h":0.4},{"s":"ACE-SQIL","x":0.2,"y":0.5,"l":0.46,"h":0.54},{"s":"ACE-SQIL","x":0.25,"y":0.6,"l":0.56,"h":0.64},{"s":"ACE-SQIL","x":0.3,"y":0.66,"l":0.62,"h":0.7},{"s":"ACE-SQIL","x":0.35,"y":0.74,"l":0.71,"h":0.77},{"s":"ACE-SQIL","x":0.4,"y":0.78,"l":0.76,"h":0.8},{"s":"ACE-SQIL","x":0.45,"y":0.8,"l":0.785,"h":0.815},{"s":"ACE-SQIL","x":0.5,"y":0.82,"l":0.805,"h":0.835},{"s":"ACE-SQIL","x":0.55,"y":0.84,"l":0.825,"h":0.855},{"s":"ACE-SQIL","x":0.6,"y":0.83,"l":0.815,"h":0.845},{"s":"ACE-SQIL","x":0.65,"y":0.815,"l":0.8,"h":0.83},{"s":"ACE-SQIL","x":0.7,"y":0.81,"l":0.795,"h":0.825},{"s":"ACE-SQIL","x":0.8,"y":0.83,"l":0.815,"h":0.845},{"s":"ACE-SQIL","x":0.9,"y":0.85,"l":0.835,"h":0.865},{"s":"ACE-SQIL","x":1.0,"y":0.84,"l":0.825,"h":0.855},
{"s":"SQIL","x":0,"y":0.18,"l":0.14,"h":0.22},{"s":"SQIL","x":0.1,"y":0.19,"l":0.15,"h":0.23},{"s":"SQIL","x":0.2,"y":0.24,"l":0.2,"h":0.28},{"s":"SQIL","x":0.3,"y":0.29,"l":0.25,"h":0.33},{"s":"SQIL","x":0.4,"y":0.34,"l":0.3,"h":0.38},{"s":"SQIL","x":0.5,"y":0.48,"l":0.43,"h":0.53},{"s":"SQIL","x":0.6,"y":0.57,"l":0.52,"h":0.62},{"s":"SQIL","x":0.65,"y":0.5,"l":0.42,"h":0.58},{"s":"SQIL","x":0.7,"y":0.39,"l":0.24,"h":0.54},{"s":"SQIL","x":0.8,"y":0.39,"l":0.22,"h":0.55},{"s":"SQIL","x":0.85,"y":0.45,"l":0.3,"h":0.58},{"s":"SQIL","x":0.9,"y":0.47,"l":0.35,"h":0.6},{"s":"SQIL","x":0.95,"y":0.56,"l":0.48,"h":0.63},{"s":"SQIL","x":1.0,"y":0.57,"l":0.5,"h":0.64},
{"s":"ACE-RCE","x":0,"y":0.08,"l":0.05,"h":0.11},{"s":"ACE-RCE","x":0.05,"y":0.1,"l":0.07,"h":0.13},{"s":"ACE-RCE","x":0.1,"y":0.15,"l":0.12,"h":0.18},{"s":"ACE-RCE","x":0.15,"y":0.24,"l":0.21,"h":0.27},{"s":"ACE-RCE","x":0.2,"y":0.35,"l":0.32,"h":0.38},{"s":"ACE-RCE","x":0.25,"y":0.47,"l":0.44,"h":0.5},{"s":"ACE-RCE","x":0.3,"y":0.58,"l":0.55,"h":0.61},{"s":"ACE-RCE","x":0.35,"y":0.66,"l":0.63,"h":0.69},{"s":"ACE-RCE","x":0.4,"y":0.71,"l":0.69,"h":0.73},{"s":"ACE-RCE","x":0.45,"y":0.74,"l":0.72,"h":0.76},{"s":"ACE-RCE","x":0.5,"y":0.76,"l":0.74,"h":0.78},{"s":"ACE-RCE","x":0.6,"y":0.81,"l":0.795,"h":0.825},{"s":"ACE-RCE","x":0.7,"y":0.82,"l":0.805,"h":0.835},{"s":"ACE-RCE","x":0.8,"y":0.82,"l":0.805,"h":0.835},{"s":"ACE-RCE","x":0.9,"y":0.82,"l":0.805,"h":0.835},{"s":"ACE-RCE","x":1.0,"y":0.81,"l":0.795,"h":0.825},
{"s":"RCE","x":0,"y":0.09,"l":0.06,"h":0.12},{"s":"RCE","x":0.1,"y":0.15,"l":0.12,"h":0.18},{"s":"RCE","x":0.2,"y":0.2,"l":0.17,"h":0.23},{"s":"RCE","x":0.3,"y":0.27,"l":0.24,"h":0.3},{"s":"RCE","x":0.4,"y":0.33,"l":0.3,"h":0.36},{"s":"RCE","x":0.5,"y":0.39,"l":0.36,"h":0.42},{"s":"RCE","x":0.6,"y":0.45,"l":0.42,"h":0.48},{"s":"RCE","x":0.7,"y":0.5,"l":0.47,"h":0.53},{"s":"RCE","x":0.8,"y":0.53,"l":0.5,"h":0.56},{"s":"RCE","x":0.9,"y":0.55,"l":0.52,"h":0.58},{"s":"RCE","x":1.0,"y":0.55,"l":0.52,"h":0.58}
],
"adroit": [
{"s":"VPACE-SQIL","x":0,"y":0.06,"l":0.04,"h":0.08},{"s":"VPACE-SQIL","x":0.1,"y":0.11,"l":0.08,"h":0.14},{"s":"VPACE-SQIL","x":0.2,"y":0.23,"l":0.18,"h":0.28},{"s":"VPACE-SQIL","x":0.3,"y":0.38,"l":0.32,"h":0.44},{"s":"VPACE-SQIL","x":0.4,"y":0.52,"l":0.46,"h":0.58},{"s":"VPACE-SQIL","x":0.5,"y":0.61,"l":0.56,"h":0.66},{"s":"VPACE-SQIL","x":0.6,"y":0.66,"l":0.62,"h":0.7},{"s":"VPACE-SQIL","x":0.7,"y":0.655,"l":0.62,"h":0.69},{"s":"VPACE-SQIL","x":0.75,"y":0.63,"l":0.6,"h":0.66},{"s":"VPACE-SQIL","x":0.8,"y":0.65,"l":0.62,"h":0.68},{"s":"VPACE-SQIL","x":0.85,"y":0.62,"l":0.59,"h":0.65},{"s":"VPACE-SQIL","x":0.9,"y":0.66,"l":0.63,"h":0.69},{"s":"VPACE-SQIL","x":1.0,"y":0.73,"l":0.7,"h":0.76},
{"s":"VP-SQIL","x":0,"y":0.05,"l":0.03,"h":0.07},{"s":"VP-SQIL","x":0.1,"y":0.12,"l":0.09,"h":0.15},{"s":"VP-SQIL","x":0.2,"y":0.26,"l":0.22,"h":0.3},{"s":"VP-SQIL","x":0.3,"y":0.42,"l":0.38,"h":0.46},{"s":"VP-SQIL","x":0.4,"y":0.56,"l":0.52,"h":0.6},{"s":"VP-SQIL","x":0.5,"y":0.65,"l":0.61,"h":0.69},{"s":"VP-SQIL","x":0.6,"y":0.7,"l":0.66,"h":0.74},{"s":"VP-SQIL","x":0.7,"y":0.75,"l":0.72,"h":0.78},{"s":"VP-SQIL","x":0.78,"y":0.79,"l":0.76,"h":0.82},{"s":"VP-SQIL","x":0.8,"y":0.77,"l":0.74,"h":0.8},{"s":"VP-SQIL","x":0.9,"y":0.8,"l":0.77,"h":0.83},{"s":"VP-SQIL","x":1.0,"y":0.85,"l":0.82,"h":0.88},
{"s":"VPACE-DAC","x":0,"y":0.05,"l":0.03,"h":0.07},{"s":"VPACE-DAC","x":0.1,"y":0.09,"l":0.07,"h":0.11},{"s":"VPACE-DAC","x":0.2,"y":0.19,"l":0.16,"h":0.22},{"s":"VPACE-DAC","x":0.3,"y":0.32,"l":0.28,"h":0.36},{"s":"VPACE-DAC","x":0.4,"y":0.42,"l":0.38,"h":0.46},{"s":"VPACE-DAC","x":0.5,"y":0.51,"l":0.47,"h":0.55},{"s":"VPACE-DAC","x":0.6,"y":0.57,"l":0.53,"h":0.61},{"s":"VPACE-DAC","x":0.7,"y":0.66,"l":0.62,"h":0.7},{"s":"VPACE-DAC","x":0.8,"y":0.68,"l":0.64,"h":0.72},{"s":"VPACE-DAC","x":0.9,"y":0.69,"l":0.65,"h":0.73},{"s":"VPACE-DAC","x":1.0,"y":0.72,"l":0.68,"h":0.76},
{"s":"VP-DAC","x":0,"y":0.06,"l":0.04,"h":0.08},{"s":"VP-DAC","x":0.1,"y":0.1,"l":0.07,"h":0.13},{"s":"VP-DAC","x":0.2,"y":0.21,"l":0.17,"h":0.25},{"s":"VP-DAC","x":0.3,"y":0.35,"l":0.3,"h":0.4},{"s":"VP-DAC","x":0.4,"y":0.44,"l":0.38,"h":0.5},{"s":"VP-DAC","x":0.5,"y":0.48,"l":0.42,"h":0.54},{"s":"VP-DAC","x":0.6,"y":0.49,"l":0.42,"h":0.56},{"s":"VP-DAC","x":0.7,"y":0.5,"l":0.43,"h":0.57},{"s":"VP-DAC","x":0.8,"y":0.5,"l":0.43,"h":0.57},{"s":"VP-DAC","x":0.9,"y":0.52,"l":0.45,"h":0.59},{"s":"VP-DAC","x":1.0,"y":0.55,"l":0.48,"h":0.62},
{"s":"ACE-SQIL","x":0,"y":0.05,"l":0.03,"h":0.07},{"s":"ACE-SQIL","x":0.1,"y":0.1,"l":0.07,"h":0.13},{"s":"ACE-SQIL","x":0.2,"y":0.21,"l":0.17,"h":0.25},{"s":"ACE-SQIL","x":0.3,"y":0.35,"l":0.3,"h":0.4},{"s":"ACE-SQIL","x":0.4,"y":0.48,"l":0.43,"h":0.53},{"s":"ACE-SQIL","x":0.5,"y":0.57,"l":0.52,"h":0.62},{"s":"ACE-SQIL","x":0.6,"y":0.61,"l":0.56,"h":0.66},{"s":"ACE-SQIL","x":0.7,"y":0.61,"l":0.56,"h":0.66},{"s":"ACE-SQIL","x":0.8,"y":0.58,"l":0.53,"h":0.63},{"s":"ACE-SQIL","x":0.9,"y":0.56,"l":0.51,"h":0.61},{"s":"ACE-SQIL","x":1.0,"y":0.54,"l":0.49,"h":0.59},
{"s":"SQIL","x":0,"y":0.06,"l":0.04,"h":0.08},{"s":"SQIL","x":0.1,"y":0.11,"l":0.08,"h":0.14},{"s":"SQIL","x":0.2,"y":0.22,"l":0.18,"h":0.26},{"s":"SQIL","x":0.3,"y":0.36,"l":0.31,"h":0.41},{"s":"SQIL","x":0.4,"y":0.48,"l":0.43,"h":0.53},{"s":"SQIL","x":0.5,"y":0.56,"l":0.51,"h":0.61},{"s":"SQIL","x":0.6,"y":0.6,"l":0.55,"h":0.65},{"s":"SQIL","x":0.7,"y":0.63,"l":0.58,"h":0.68},{"s":"SQIL","x":0.8,"y":0.65,"l":0.6,"h":0.7},{"s":"SQIL","x":0.9,"y":0.67,"l":0.62,"h":0.72},{"s":"SQIL","x":1.0,"y":0.7,"l":0.65,"h":0.75},
{"s":"ACE-RCE","x":0,"y":0.04,"l":0.03,"h":0.05},{"s":"ACE-RCE","x":0.1,"y":0.045,"l":0.035,"h":0.055},{"s":"ACE-RCE","x":0.2,"y":0.06,"l":0.045,"h":0.075},{"s":"ACE-RCE","x":0.3,"y":0.1,"l":0.08,"h":0.12},{"s":"ACE-RCE","x":0.4,"y":0.17,"l":0.14,"h":0.2},{"s":"ACE-RCE","x":0.5,"y":0.22,"l":0.18,"h":0.26},{"s":"ACE-RCE","x":0.6,"y":0.26,"l":0.22,"h":0.3},{"s":"ACE-RCE","x":0.7,"y":0.28,"l":0.24,"h":0.32},{"s":"ACE-RCE","x":0.8,"y":0.31,"l":0.27,"h":0.35},{"s":"ACE-RCE","x":0.9,"y":0.33,"l":0.29,"h":0.37},{"s":"ACE-RCE","x":1.0,"y":0.35,"l":0.31,"h":0.39},
{"s":"RCE","x":0,"y":0.04,"l":0.03,"h":0.05},{"s":"RCE","x":0.1,"y":0.05,"l":0.04,"h":0.06},{"s":"RCE","x":0.2,"y":0.08,"l":0.065,"h":0.095},{"s":"RCE","x":0.3,"y":0.12,"l":0.1,"h":0.14},{"s":"RCE","x":0.4,"y":0.17,"l":0.14,"h":0.2},{"s":"RCE","x":0.5,"y":0.23,"l":0.19,"h":0.27},{"s":"RCE","x":0.6,"y":0.27,"l":0.23,"h":0.31},{"s":"RCE","x":0.7,"y":0.28,"l":0.24,"h":0.32},{"s":"RCE","x":0.8,"y":0.26,"l":0.22,"h":0.3},{"s":"RCE","x":0.9,"y":0.26,"l":0.22,"h":0.3},{"s":"RCE","x":1.0,"y":0.3,"l":0.26,"h":0.34}
],
"adroitdp": [
{"s":"VPACE-SQIL","x":0,"y":0.04,"l":0.035,"h":0.045},{"s":"VPACE-SQIL","x":0.1,"y":0.05,"l":0.04,"h":0.06},{"s":"VPACE-SQIL","x":0.15,"y":0.09,"l":0.07,"h":0.11},{"s":"VPACE-SQIL","x":0.2,"y":0.15,"l":0.12,"h":0.18},{"s":"VPACE-SQIL","x":0.25,"y":0.22,"l":0.18,"h":0.26},{"s":"VPACE-SQIL","x":0.3,"y":0.28,"l":0.23,"h":0.33},{"s":"VPACE-SQIL","x":0.35,"y":0.29,"l":0.24,"h":0.34},{"s":"VPACE-SQIL","x":0.4,"y":0.33,"l":0.28,"h":0.38},{"s":"VPACE-SQIL","x":0.45,"y":0.4,"l":0.35,"h":0.45},{"s":"VPACE-SQIL","x":0.5,"y":0.45,"l":0.4,"h":0.5},{"s":"VPACE-SQIL","x":0.55,"y":0.51,"l":0.46,"h":0.56},{"s":"VPACE-SQIL","x":0.6,"y":0.55,"l":0.5,"h":0.6},{"s":"VPACE-SQIL","x":0.65,"y":0.6,"l":0.55,"h":0.65},{"s":"VPACE-SQIL","x":0.7,"y":0.66,"l":0.61,"h":0.71},{"s":"VPACE-SQIL","x":0.75,"y":0.69,"l":0.64,"h":0.74},{"s":"VPACE-SQIL","x":0.77,"y":0.68,"l":0.63,"h":0.73},{"s":"VPACE-SQIL","x":0.8,"y":0.65,"l":0.6,"h":0.7},{"s":"VPACE-SQIL","x":0.85,"y":0.68,"l":0.63,"h":0.73},{"s":"VPACE-SQIL","x":0.9,"y":0.67,"l":0.62,"h":0.72},{"s":"VPACE-SQIL","x":0.95,"y":0.66,"l":0.61,"h":0.71},{"s":"VPACE-SQIL","x":1.0,"y":0.64,"l":0.59,"h":0.69},
{"s":"VP-SQIL","x":0,"y":0.04,"l":0.035,"h":0.045},{"s":"VP-SQIL","x":0.15,"y":0.07,"l":0.05,"h":0.09},{"s":"VP-SQIL","x":0.2,"y":0.1,"l":0.07,"h":0.13},{"s":"VP-SQIL","x":0.3,"y":0.22,"l":0.17,"h":0.27},{"s":"VP-SQIL","x":0.4,"y":0.3,"l":0.25,"h":0.35},{"s":"VP-SQIL","x":0.5,"y":0.4,"l":0.35,"h":0.45},{"s":"VP-SQIL","x":0.6,"y":0.45,"l":0.4,"h":0.5},{"s":"VP-SQIL","x":0.7,"y":0.5,"l":0.45,"h":0.55},{"s":"VP-SQIL","x":0.8,"y":0.58,"l":0.53,"h":0.63},{"s":"VP-SQIL","x":0.9,"y":0.6,"l":0.55,"h":0.65},{"s":"VP-SQIL","x":1.0,"y":0.6,"l":0.55,"h":0.65},
{"s":"VPACE-DAC","x":0,"y":0.04,"l":0.035,"h":0.045},{"s":"VPACE-DAC","x":0.1,"y":0.05,"l":0.04,"h":0.06},{"s":"VPACE-DAC","x":0.15,"y":0.08,"l":0.06,"h":0.1},{"s":"VPACE-DAC","x":0.2,"y":0.14,"l":0.11,"h":0.17},{"s":"VPACE-DAC","x":0.25,"y":0.19,"l":0.15,"h":0.23},{"s":"VPACE-DAC","x":0.3,"y":0.24,"l":0.19,"h":0.29},{"s":"VPACE-DAC","x":0.35,"y":0.28,"l":0.23,"h":0.33},{"s":"VPACE-DAC","x":0.4,"y":0.3,"l":0.25,"h":0.35},{"s":"VPACE-DAC","x":0.45,"y":0.38,"l":0.33,"h":0.43},{"s":"VPACE-DAC","x":0.5,"y":0.43,"l":0.38,"h":0.48},{"s":"VPACE-DAC","x":0.53,"y":0.41,"l":0.36,"h":0.46},{"s":"VPACE-DAC","x":0.55,"y":0.48,"l":0.43,"h":0.53},{"s":"VPACE-DAC","x":0.6,"y":0.52,"l":0.47,"h":0.57},{"s":"VPACE-DAC","x":0.65,"y":0.56,"l":0.51,"h":0.61},{"s":"VPACE-DAC","x":0.7,"y":0.66,"l":0.61,"h":0.71},{"s":"VPACE-DAC","x":0.75,"y":0.67,"l":0.62,"h":0.72},{"s":"VPACE-DAC","x":0.8,"y":0.67,"l":0.62,"h":0.72},{"s":"VPACE-DAC","x":0.85,"y":0.7,"l":0.65,"h":0.75},{"s":"VPACE-DAC","x":0.9,"y":0.69,"l":0.64,"h":0.74},{"s":"VPACE-DAC","x":0.95,"y":0.7,"l":0.65,"h":0.75},{"s":"VPACE-DAC","x":1.0,"y":0.65,"l":0.6,"h":0.7},
{"s":"VP-DAC","x":0,"y":0.04,"l":0.035,"h":0.045},{"s":"VP-DAC","x":0.18,"y":0.04,"l":0.035,"h":0.045},{"s":"VP-DAC","x":0.2,"y":0.06,"l":0.04,"h":0.08},{"s":"VP-DAC","x":0.25,"y":0.15,"l":0.11,"h":0.19},{"s":"VP-DAC","x":0.3,"y":0.22,"l":0.17,"h":0.27},{"s":"VP-DAC","x":0.4,"y":0.29,"l":0.24,"h":0.34},{"s":"VP-DAC","x":0.5,"y":0.38,"l":0.33,"h":0.43},{"s":"VP-DAC","x":0.6,"y":0.45,"l":0.4,"h":0.5},{"s":"VP-DAC","x":0.7,"y":0.47,"l":0.42,"h":0.52},{"s":"VP-DAC","x":0.8,"y":0.5,"l":0.45,"h":0.55},{"s":"VP-DAC","x":0.9,"y":0.52,"l":0.47,"h":0.57},{"s":"VP-DAC","x":1.0,"y":0.51,"l":0.45,"h":0.57},
{"s":"ACE-SQIL","x":0,"y":0.04,"l":0.035,"h":0.045},{"s":"ACE-SQIL","x":0.1,"y":0.05,"l":0.04,"h":0.06},{"s":"ACE-SQIL","x":0.15,"y":0.08,"l":0.06,"h":0.1},{"s":"ACE-SQIL","x":0.2,"y":0.14,"l":0.11,"h":0.17},{"s":"ACE-SQIL","x":0.25,"y":0.18,"l":0.14,"h":0.22},{"s":"ACE-SQIL","x":0.3,"y":0.23,"l":0.18,"h":0.28},{"s":"ACE-SQIL","x":0.35,"y":0.28,"l":0.23,"h":0.33},{"s":"ACE-SQIL","x":0.4,"y":0.31,"l":0.26,"h":0.36},{"s":"ACE-SQIL","x":0.45,"y":0.38,"l":0.33,"h":0.43},{"s":"ACE-SQIL","x":0.5,"y":0.43,"l":0.38,"h":0.48},{"s":"ACE-SQIL","x":0.55,"y":0.45,"l":0.4,"h":0.5},{"s":"ACE-SQIL","x":0.6,"y":0.49,"l":0.44,"h":0.54},{"s":"ACE-SQIL","x":0.65,"y":0.51,"l":0.46,"h":0.56},{"s":"ACE-SQIL","x":0.7,"y":0.54,"l":0.49,"h":0.59},{"s":"ACE-SQIL","x":0.75,"y":0.59,"l":0.54,"h":0.64},{"s":"ACE-SQIL","x":0.8,"y":0.63,"l":0.58,"h":0.68},{"s":"ACE-SQIL","x":0.85,"y":0.61,"l":0.56,"h":0.66},{"s":"ACE-SQIL","x":0.9,"y":0.6,"l":0.55,"h":0.65},{"s":"ACE-SQIL","x":0.95,"y":0.6,"l":0.54,"h":0.66},{"s":"ACE-SQIL","x":1.0,"y":0.68,"l":0.62,"h":0.74},
{"s":"SQIL","x":0,"y":0.04,"l":0.035,"h":0.045},{"s":"SQIL","x":0.1,"y":0.05,"l":0.04,"h":0.06},{"s":"SQIL","x":0.2,"y":0.12,"l":0.09,"h":0.15},{"s":"SQIL","x":0.3,"y":0.19,"l":0.15,"h":0.23},{"s":"SQIL","x":0.4,"y":0.22,"l":0.17,"h":0.27},{"s":"SQIL","x":0.5,"y":0.28,"l":0.22,"h":0.34},{"s":"SQIL","x":0.6,"y":0.34,"l":0.28,"h":0.4},{"s":"SQIL","x":0.7,"y":0.36,"l":0.3,"h":0.42},{"s":"SQIL","x":0.8,"y":0.4,"l":0.34,"h":0.46},{"s":"SQIL","x":0.9,"y":0.47,"l":0.41,"h":0.53},{"s":"SQIL","x":1.0,"y":0.58,"l":0.52,"h":0.64},
{"s":"ACE-RCE","x":0,"y":0.04,"l":0.035,"h":0.045},{"s":"ACE-RCE","x":0.2,"y":0.04,"l":0.035,"h":0.045},{"s":"ACE-RCE","x":0.4,"y":0.04,"l":0.035,"h":0.045},{"s":"ACE-RCE","x":0.6,"y":0.042,"l":0.037,"h":0.047},{"s":"ACE-RCE","x":0.7,"y":0.042,"l":0.037,"h":0.047},{"s":"ACE-RCE","x":0.8,"y":0.045,"l":0.04,"h":0.05},{"s":"ACE-RCE","x":0.9,"y":0.06,"l":0.055,"h":0.065},{"s":"ACE-RCE","x":1.0,"y":0.05,"l":0.045,"h":0.055},
{"s":"RCE","x":0,"y":0.04,"l":0.035,"h":0.045},{"s":"RCE","x":0.2,"y":0.04,"l":0.035,"h":0.045},{"s":"RCE","x":0.4,"y":0.04,"l":0.035,"h":0.045},{"s":"RCE","x":0.6,"y":0.042,"l":0.037,"h":0.047},{"s":"RCE","x":0.7,"y":0.042,"l":0.037,"h":0.047},{"s":"RCE","x":0.8,"y":0.045,"l":0.04,"h":0.05},{"s":"RCE","x":0.9,"y":0.06,"l":0.055,"h":0.065},{"s":"RCE","x":1.0,"y":0.05,"l":0.045,"h":0.055}
]
},
"concat": [
{"width": 208, "height": 140, "data": {"name": "unstack"}, "resolve": {"axis": {"x": "independent"}},
 "layer": [
  {"mark": {"type": "area", "opacity": 0.22, "clip": true},
   "encoding": {
    "x": {"field": "x", "type": "quantitative", "scale": {"domain": [0, 5.12], "nice": false, "zero": false}, "axis": {"values": [0,1,2,3,4,5], "format": "d", "title": null, "labelOverlap": false}},
    "y": {"field": "l", "type": "quantitative", "scale": {"domain": [-0.005, 1.012], "nice": false, "zero": false}, "axis": {"values": [0,0.25,0.5,0.75,1], "format": ".2f", "labelOverlap": false, "title": "Success Rate or Return", "titleFontSize": 19.5, "titlePadding": 6}},
    "y2": {"field": "h"},
    "fill": {"field": "s", "type": "nominal", "scale": {"domain": ["RCE","SQIL","VP-DAC","VP-SQIL","ACE-RCE","ACE-SQIL","VPACE-DAC","VPACE-SQIL"], "range": ["#98df8a","#ff9896","#ffbb78","#aec7e8","#2ca02c","#d62728","#ff7f0e","#1f77b4"]}, "legend": null}}},
  {"mark": {"type": "line", "strokeWidth": 1.5, "clip": true},
   "encoding": {
    "x": {"field": "x", "type": "quantitative", "axis": {"orient": "top", "title": "Unstack-Stack", "labels": false, "ticks": false, "domain": false, "grid": false, "titleFontSize": 21, "titlePadding": 2}},
    "y": {"field": "y", "type": "quantitative", "axis": {"values": [0,0.25,0.5,0.75,1], "format": ".2f", "labelOverlap": false, "title": "Success Rate or Return", "titleFontSize": 19.5, "titlePadding": 6}},
    "stroke": {"field": "s", "type": "nominal", "scale": {"domain": ["VPACE-SQIL","VP-SQIL","VPACE-DAC","VP-DAC","ACE-SQIL","SQIL","ACE-RCE","RCE"], "range": ["#1f77b4","#aec7e8","#ff7f0e","#ffbb78","#d62728","#ff9896","#2ca02c","#98df8a"]}, "legend": {"title": null, "orient": "none", "legendX": 120, "legendY": 410, "columns": 4, "symbolType": "M-1,0H3.2"}},
    "strokeDash": {"field": "s", "type": "nominal", "scale": {"domain": ["VPACE-SQIL","VP-SQIL","VPACE-DAC","VP-DAC","ACE-SQIL","SQIL","ACE-RCE","RCE"], "range": [[1,0],[5,2.5],[1,0],[5,2.5],[1,0],[5,2.5],[1,0],[5,2.5]]}, "legend": {"title": null, "orient": "none", "legendX": 120, "legendY": 410, "columns": 4, "symbolType": "M-1,0H3.2"}}}}
 ]},
{"width": 211, "height": 140, "data": {"name": "insert"}, "resolve": {"axis": {"x": "independent"}},
 "layer": [
  {"mark": {"type": "area", "opacity": 0.22, "clip": true},
   "encoding": {
    "x": {"field": "x", "type": "quantitative", "scale": {"domain": [-0.15, 10.3], "nice": false, "zero": false}, "axis": {"values": [0,2,4,6,8,10], "format": "d", "labelOverlap": false, "title": "Environment Steps (×100k)", "titleFontSize": 22, "titleX": 236, "titleY": 39, "titleAlign": "center", "titleBaseline": "alphabetic"}},
    "y": {"field": "l", "type": "quantitative", "scale": {"domain": [-0.005, 1.012], "nice": false, "zero": false}, "axis": {"values": [0,0.25,0.5,0.75,1], "format": ".2f", "labelOverlap": false, "title": null}},
    "y2": {"field": "h"},
    "fill": {"field": "s", "type": "nominal", "scale": {"domain": ["RCE","SQIL","VP-DAC","VP-SQIL","ACE-RCE","ACE-SQIL","VPACE-DAC","VPACE-SQIL"], "range": ["#98df8a","#ff9896","#ffbb78","#aec7e8","#2ca02c","#d62728","#ff7f0e","#1f77b4"]}, "legend": null}}},
  {"mark": {"type": "line", "strokeWidth": 1.5, "clip": true},
   "encoding": {
    "x": {"field": "x", "type": "quantitative", "axis": {"orient": "top", "title": "Insert", "labels": false, "ticks": false, "domain": false, "grid": false, "titleFontSize": 21, "titlePadding": 2}},
    "y": {"field": "y", "type": "quantitative", "axis": {"values": [0,0.25,0.5,0.75,1], "format": ".2f", "labelOverlap": false, "title": null}},
    "stroke": {"field": "s", "type": "nominal", "scale": {"domain": ["VPACE-SQIL","VP-SQIL","VPACE-DAC","VP-DAC","ACE-SQIL","SQIL","ACE-RCE","RCE"], "range": ["#1f77b4","#aec7e8","#ff7f0e","#ffbb78","#d62728","#ff9896","#2ca02c","#98df8a"]}, "legend": {"title": null, "orient": "none", "legendX": 120, "legendY": 410, "columns": 4, "symbolType": "M-1,0H3.2"}},
    "strokeDash": {"field": "s", "type": "nominal", "scale": {"domain": ["VPACE-SQIL","VP-SQIL","VPACE-DAC","VP-DAC","ACE-SQIL","SQIL","ACE-RCE","RCE"], "range": [[1,0],[5,2.5],[1,0],[5,2.5],[1,0],[5,2.5],[1,0],[5,2.5]]}, "legend": {"title": null, "orient": "none", "legendX": 120, "legendY": 410, "columns": 4, "symbolType": "M-1,0H3.2"}}}}
 ]},
{"width": 216, "height": 140, "data": {"name": "box"}, "resolve": {"axis": {"x": "independent"}},
 "layer": [
  {"mark": {"type": "area", "opacity": 0.22, "clip": true},
   "encoding": {
    "x": {"field": "x", "type": "quantitative", "scale": {"domain": [-0.12, 5.25], "nice": false, "zero": false}, "axis": {"values": [0,1,2,3,4,5], "format": "d", "labelOverlap": false, "title": null}},
    "y": {"field": "l", "type": "quantitative", "scale": {"domain": [-0.0095, 0.27], "nice": false, "zero": false}, "axis": {"values": [0,0.1,0.2], "format": ".1f", "labelOverlap": false, "title": null}},
    "y2": {"field": "h"},
    "fill": {"field": "s", "type": "nominal", "scale": {"domain": ["RCE","SQIL","VP-DAC","VP-SQIL","ACE-RCE","ACE-SQIL","VPACE-DAC","VPACE-SQIL"], "range": ["#98df8a","#ff9896","#ffbb78","#aec7e8","#2ca02c","#d62728","#ff7f0e","#1f77b4"]}, "legend": null}}},
  {"mark": {"type": "line", "strokeWidth": 1.5, "clip": true},
   "encoding": {
    "x": {"field": "x", "type": "quantitative", "axis": {"orient": "top", "title": "sawyer_box_close", "labels": false, "ticks": false, "domain": false, "grid": false, "titleFontSize": 21, "titlePadding": 2}},
    "y": {"field": "y", "type": "quantitative", "axis": {"values": [0,0.1,0.2], "format": ".1f", "labelOverlap": false, "title": null}},
    "stroke": {"field": "s", "type": "nominal", "scale": {"domain": ["VPACE-SQIL","VP-SQIL","VPACE-DAC","VP-DAC","ACE-SQIL","SQIL","ACE-RCE","RCE"], "range": ["#1f77b4","#aec7e8","#ff7f0e","#ffbb78","#d62728","#ff9896","#2ca02c","#98df8a"]}, "legend": {"title": null, "orient": "none", "legendX": 120, "legendY": 410, "columns": 4, "symbolType": "M-1,0H3.2"}},
    "strokeDash": {"field": "s", "type": "nominal", "scale": {"domain": ["VPACE-SQIL","VP-SQIL","VPACE-DAC","VP-DAC","ACE-SQIL","SQIL","ACE-RCE","RCE"], "range": [[1,0],[5,2.5],[1,0],[5,2.5],[1,0],[5,2.5],[1,0],[5,2.5]]}, "legend": {"title": null, "orient": "none", "legendX": 120, "legendY": 410, "columns": 4, "symbolType": "M-1,0H3.2"}}}}
 ]},
{"width": 214, "height": 140, "data": {"name": "relocate"}, "resolve": {"axis": {"x": "independent"}},
 "layer": [
  {"mark": {"type": "area", "opacity": 0.22, "clip": true},
   "encoding": {
    "x": {"field": "x", "type": "quantitative", "scale": {"domain": [-0.66, 15.68], "nice": false, "zero": false}, "axis": {"values": [0,3,6,9,12,15], "format": "d", "labelOverlap": false, "title": null}},
    "y": {"field": "l", "type": "quantitative", "scale": {"domain": [-85, 2297], "nice": false, "zero": false}, "axis": {"values": [0,500,1000,1500,2000], "format": "d", "labelOverlap": false, "title": null}},
    "y2": {"field": "h"},
    "fill": {"field": "s", "type": "nominal", "scale": {"domain": ["RCE","SQIL","VP-DAC","VP-SQIL","ACE-RCE","ACE-SQIL","VPACE-DAC","VPACE-SQIL"], "range": ["#98df8a","#ff9896","#ffbb78","#aec7e8","#2ca02c","#d62728","#ff7f0e","#1f77b4"]}, "legend": null}}},
  {"mark": {"type": "line", "strokeWidth": 1.5, "clip": true},
   "encoding": {
    "x": {"field": "x", "type": "quantitative", "axis": {"orient": "top", "title": "relocate-human-v0-dp", "labels": false, "ticks": false, "domain": false, "grid": false, "titleFontSize": 21, "titlePadding": 2}},
    "y": {"field": "y", "type": "quantitative", "axis": {"values": [0,500,1000,1500,2000], "format": "d", "labelOverlap": false, "title": null}},
    "stroke": {"field": "s", "type": "nominal", "scale": {"domain": ["VPACE-SQIL","VP-SQIL","VPACE-DAC","VP-DAC","ACE-SQIL","SQIL","ACE-RCE","RCE"], "range": ["#1f77b4","#aec7e8","#ff7f0e","#ffbb78","#d62728","#ff9896","#2ca02c","#98df8a"]}, "legend": {"title": null, "orient": "none", "legendX": 120, "legendY": 410, "columns": 4, "symbolType": "M-1,0H3.2"}},
    "strokeDash": {"field": "s", "type": "nominal", "scale": {"domain": ["VPACE-SQIL","VP-SQIL","VPACE-DAC","VP-DAC","ACE-SQIL","SQIL","ACE-RCE","RCE"], "range": [[1,0],[5,2.5],[1,0],[5,2.5],[1,0],[5,2.5],[1,0],[5,2.5]]}, "legend": {"title": null, "orient": "none", "legendX": 120, "legendY": 410, "columns": 4, "symbolType": "M-1,0H3.2"}}}}
 ]},
{"width": 214, "height": 140, "data": {"name": "panda"}, "resolve": {"axis": {"x": "independent"}},
 "layer": [
  {"mark": {"type": "area", "opacity": 0.22, "clip": true},
   "encoding": {
    "x": {"field": "x", "type": "quantitative", "scale": {"domain": [0, 1], "nice": false, "zero": false}, "axis": {"values": [0,0.2,0.4,0.6,0.8,1], "format": ".1f", "labelOverlap": false, "title": null, "gridColor": {"condition": {"test": "datum.value >= 1", "value": "#000000"}, "value": "#dcdcdc"}}},
    "y": {"field": "l", "type": "quantitative", "scale": {"domain": [0, 1], "nice": false, "zero": false}, "axis": {"values": [0,0.2,0.4,0.6,0.8,1], "format": ".1f", "labelOverlap": false, "title": "Return (normalized)", "titleFontSize": 22, "titlePadding": 5, "gridColor": {"condition": {"test": "datum.value >= 1", "value": "#000000"}, "value": "#dcdcdc"}}},
    "y2": {"field": "h"},
    "fill": {"field": "s", "type": "nominal", "scale": {"domain": ["RCE","SQIL","VP-DAC","VP-SQIL","ACE-RCE","ACE-SQIL","VPACE-DAC","VPACE-SQIL"], "range": ["#98df8a","#ff9896","#ffbb78","#aec7e8","#2ca02c","#d62728","#ff7f0e","#1f77b4"]}, "legend": null}}},
  {"mark": {"type": "line", "strokeWidth": 1.5, "clip": true},
   "encoding": {
    "x": {"field": "x", "type": "quantitative", "axis": {"orient": "top", "title": "Panda Main Tasks", "labels": false, "ticks": false, "domain": false, "grid": false, "titleFontSize": 21, "titlePadding": 2}},
    "y": {"field": "y", "type": "quantitative", "axis": {"values": [0,0.2,0.4,0.6,0.8,1], "format": ".1f", "labelOverlap": false, "title": "Return (normalized)", "titleFontSize": 22, "titlePadding": 5, "gridColor": {"condition": {"test": "datum.value >= 1", "value": "#000000"}, "value": "#dcdcdc"}}},
    "stroke": {"field": "s", "type": "nominal", "scale": {"domain": ["VPACE-SQIL","VP-SQIL","VPACE-DAC","VP-DAC","ACE-SQIL","SQIL","ACE-RCE","RCE"], "range": ["#1f77b4","#aec7e8","#ff7f0e","#ffbb78","#d62728","#ff9896","#2ca02c","#98df8a"]}, "legend": {"title": null, "orient": "none", "legendX": 120, "legendY": 410, "columns": 4, "symbolType": "M-1,0H3.2"}},
    "strokeDash": {"field": "s", "type": "nominal", "scale": {"domain": ["VPACE-SQIL","VP-SQIL","VPACE-DAC","VP-DAC","ACE-SQIL","SQIL","ACE-RCE","RCE"], "range": [[1,0],[5,2.5],[1,0],[5,2.5],[1,0],[5,2.5],[1,0],[5,2.5]]}, "legend": {"title": null, "orient": "none", "legendX": 120, "legendY": 410, "columns": 4, "symbolType": "M-1,0H3.2"}}}}
 ]},
{"width": 213, "height": 140, "data": {"name": "sawyer"}, "resolve": {"axis": {"x": "independent"}},
 "layer": [
  {"mark": {"type": "area", "opacity": 0.22, "clip": true},
   "encoding": {
    "x": {"field": "x", "type": "quantitative", "scale": {"domain": [0, 1], "nice": false, "zero": false}, "axis": {"values": [0,0.2,0.4,0.6,0.8,1], "format": ".1f", "labelOverlap": false, "title": "Steps (normalized)", "titleFontSize": 22, "titleX": 236, "titleY": 36, "titleAlign": "center", "titleBaseline": "alphabetic", "gridColor": {"condition": {"test": "datum.value >= 1", "value": "#000000"}, "value": "#dcdcdc"}}},
    "y": {"field": "l", "type": "quantitative", "scale": {"domain": [0, 1], "nice": false, "zero": false}, "axis": {"values": [0,0.2,0.4,0.6,0.8,1], "format": ".1f", "labelOverlap": false, "title": null, "gridColor": {"condition": {"test": "datum.value >= 1", "value": "#000000"}, "value": "#dcdcdc"}}},
    "y2": {"field": "h"},
    "fill": {"field": "s", "type": "nominal", "scale": {"domain": ["RCE","SQIL","VP-DAC","VP-SQIL","ACE-RCE","ACE-SQIL","VPACE-DAC","VPACE-SQIL"], "range": ["#98df8a","#ff9896","#ffbb78","#aec7e8","#2ca02c","#d62728","#ff7f0e","#1f77b4"]}, "legend": null}}},
  {"mark": {"type": "line", "strokeWidth": 1.5, "clip": true},
   "encoding": {
    "x": {"field": "x", "type": "quantitative", "axis": {"orient": "top", "title": "Sawyer Main Tasks", "labels": false, "ticks": false, "domain": false, "grid": false, "titleFontSize": 21, "titlePadding": 2}},
    "y": {"field": "y", "type": "quantitative", "axis": {"values": [0,0.2,0.4,0.6,0.8,1], "format": ".1f", "labelOverlap": false, "title": null, "gridColor": {"condition": {"test": "datum.value >= 1", "value": "#000000"}, "value": "#dcdcdc"}}},
    "stroke": {"field": "s", "type": "nominal", "scale": {"domain": ["VPACE-SQIL","VP-SQIL","VPACE-DAC","VP-DAC","ACE-SQIL","SQIL","ACE-RCE","RCE"], "range": ["#1f77b4","#aec7e8","#ff7f0e","#ffbb78","#d62728","#ff9896","#2ca02c","#98df8a"]}, "legend": {"title": null, "orient": "none", "legendX": 120, "legendY": 410, "columns": 4, "symbolType": "M-1,0H3.2"}},
    "strokeDash": {"field": "s", "type": "nominal", "scale": {"domain": ["VPACE-SQIL","VP-SQIL","VPACE-DAC","VP-DAC","ACE-SQIL","SQIL","ACE-RCE","RCE"], "range": [[1,0],[5,2.5],[1,0],[5,2.5],[1,0],[5,2.5],[1,0],[5,2.5]]}, "legend": {"title": null, "orient": "none", "legendX": 120, "legendY": 410, "columns": 4, "symbolType": "M-1,0H3.2"}}}}
 ]},
{"width": 214, "height": 140, "data": {"name": "adroit"}, "resolve": {"axis": {"x": "independent"}},
 "layer": [
  {"mark": {"type": "area", "opacity": 0.22, "clip": true},
   "encoding": {
    "x": {"field": "x", "type": "quantitative", "scale": {"domain": [0, 1], "nice": false, "zero": false}, "axis": {"values": [0,0.2,0.4,0.6,0.8,1], "format": ".1f", "labelOverlap": false, "title": null, "gridColor": {"condition": {"test": "datum.value >= 1", "value": "#000000"}, "value": "#dcdcdc"}}},
    "y": {"field": "l", "type": "quantitative", "scale": {"domain": [0, 1], "nice": false, "zero": false}, "axis": {"values": [0,0.2,0.4,0.6,0.8,1], "format": ".1f", "labelOverlap": false, "title": null, "gridColor": {"condition": {"test": "datum.value >= 1", "value": "#000000"}, "value": "#dcdcdc"}}},
    "y2": {"field": "h"},
    "fill": {"field": "s", "type": "nominal", "scale": {"domain": ["RCE","SQIL","VP-DAC","VP-SQIL","ACE-RCE","ACE-SQIL","VPACE-DAC","VPACE-SQIL"], "range": ["#98df8a","#ff9896","#ffbb78","#aec7e8","#2ca02c","#d62728","#ff7f0e","#1f77b4"]}, "legend": null}}},
  {"mark": {"type": "line", "strokeWidth": 1.5, "clip": true},
   "encoding": {
    "x": {"field": "x", "type": "quantitative", "axis": {"orient": "top", "title": "Adroit Main Tasks", "labels": false, "ticks": false, "domain": false, "grid": false, "titleFontSize": 21, "titlePadding": 2}},
    "y": {"field": "y", "type": "quantitative", "axis": {"values": [0,0.2,0.4,0.6,0.8,1], "format": ".1f", "labelOverlap": false, "title": null, "gridColor": {"condition": {"test": "datum.value >= 1", "value": "#000000"}, "value": "#dcdcdc"}}},
    "stroke": {"field": "s", "type": "nominal", "scale": {"domain": ["VPACE-SQIL","VP-SQIL","VPACE-DAC","VP-DAC","ACE-SQIL","SQIL","ACE-RCE","RCE"], "range": ["#1f77b4","#aec7e8","#ff7f0e","#ffbb78","#d62728","#ff9896","#2ca02c","#98df8a"]}, "legend": {"title": null, "orient": "none", "legendX": 120, "legendY": 410, "columns": 4, "symbolType": "M-1,0H3.2"}},
    "strokeDash": {"field": "s", "type": "nominal", "scale": {"domain": ["VPACE-SQIL","VP-SQIL","VPACE-DAC","VP-DAC","ACE-SQIL","SQIL","ACE-RCE","RCE"], "range": [[1,0],[5,2.5],[1,0],[5,2.5],[1,0],[5,2.5],[1,0],[5,2.5]]}, "legend": {"title": null, "orient": "none", "legendX": 120, "legendY": 410, "columns": 4, "symbolType": "M-1,0H3.2"}}}}
 ]},
{"width": 213, "height": 140, "data": {"name": "adroitdp"}, "resolve": {"axis": {"x": "independent"}},
 "layer": [
  {"mark": {"type": "area", "opacity": 0.22, "clip": true},
   "encoding": {
    "x": {"field": "x", "type": "quantitative", "scale": {"domain": [0, 1], "nice": false, "zero": false}, "axis": {"values": [0,0.2,0.4,0.6,0.8,1], "format": ".1f", "labelOverlap": false, "title": null, "gridColor": {"condition": {"test": "datum.value >= 1", "value": "#000000"}, "value": "#dcdcdc"}}},
    "y": {"field": "l", "type": "quantitative", "scale": {"domain": [0, 1], "nice": false, "zero": false}, "axis": {"values": [0,0.2,0.4,0.6,0.8,1], "format": ".1f", "labelOverlap": false, "title": null, "gridColor": {"condition": {"test": "datum.value >= 1", "value": "#000000"}, "value": "#dcdcdc"}}},
    "y2": {"field": "h"},
    "fill": {"field": "s", "type": "nominal", "scale": {"domain": ["RCE","SQIL","VP-DAC","VP-SQIL","ACE-RCE","ACE-SQIL","VPACE-DAC","VPACE-SQIL"], "range": ["#98df8a","#ff9896","#ffbb78","#aec7e8","#2ca02c","#d62728","#ff7f0e","#1f77b4"]}, "legend": null}}},
  {"mark": {"type": "line", "strokeWidth": 1.5, "clip": true},
   "encoding": {
    "x": {"field": "x", "type": "quantitative", "axis": {"orient": "top", "title": "Adroit DP Main Tasks", "labels": false, "ticks": false, "domain": false, "grid": false, "titleFontSize": 21, "titlePadding": 2}},
    "y": {"field": "y", "type": "quantitative", "axis": {"values": [0,0.2,0.4,0.6,0.8,1], "format": ".1f", "labelOverlap": false, "title": null, "gridColor": {"condition": {"test": "datum.value >= 1", "value": "#000000"}, "value": "#dcdcdc"}}},
    "stroke": {"field": "s", "type": "nominal", "scale": {"domain": ["VPACE-SQIL","VP-SQIL","VPACE-DAC","VP-DAC","ACE-SQIL","SQIL","ACE-RCE","RCE"], "range": ["#1f77b4","#aec7e8","#ff7f0e","#ffbb78","#d62728","#ff9896","#2ca02c","#98df8a"]}, "legend": {"title": null, "orient": "none", "legendX": 120, "legendY": 410, "columns": 4, "symbolType": "M-1,0H3.2"}},
    "strokeDash": {"field": "s", "type": "nominal", "scale": {"domain": ["VPACE-SQIL","VP-SQIL","VPACE-DAC","VP-DAC","ACE-SQIL","SQIL","ACE-RCE","RCE"], "range": [[1,0],[5,2.5],[1,0],[5,2.5],[1,0],[5,2.5],[1,0],[5,2.5]]}, "legend": {"title": null, "orient": "none", "legendX": 120, "legendY": 410, "columns": 4, "symbolType": "M-1,0H3.2"}}}}
 ]}
],
"config": {
 "font": "Liberation Serif",
 "view": {"stroke": "#000000", "strokeWidth": 1},
 "axis": {"labelFontSize": 12, "labelColor": "#000000", "labelFont": "Liberation Serif", "tickColor": "#000000", "tickSize": 3.5, "tickWidth": 0.8, "domain": true, "domainColor": "#000000", "domainWidth": 1, "gridColor": "#dcdcdc", "gridWidth": 0.8, "labelFlush": false, "labelOverlap": false, "labelPadding": 2, "titleFontWeight": "normal", "titleColor": "#000000", "titleFont": "Liberation Serif"},
 "legend": {"columnPadding": 40, "rowPadding": 7.5, "labelFontSize": 18, "labelFont": "Liberation Serif", "labelColor": "#000000", "labelOffset": 35, "symbolSize": 324, "symbolStrokeWidth": 1.5, "padding": 8, "strokeColor": "#cccccc", "cornerRadius": 3, "fillColor": "#ffffff", "labelLimit": 300}
}
}
